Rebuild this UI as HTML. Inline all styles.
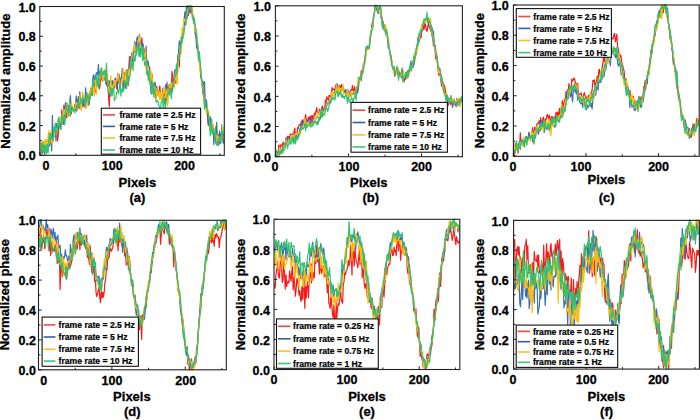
<!DOCTYPE html>
<html><head><meta charset="utf-8"><style>
html,body{margin:0;padding:0;background:#fff;}
body{width:700px;height:420px;overflow:hidden;}
svg{display:block;}
text{font-family:"Liberation Sans",sans-serif;font-weight:bold;fill:#000;stroke:#000;stroke-width:0.3px;}
.tk{font-size:12.5px;}
.tt{font-size:13px;}
.lg{font-size:8.6px;stroke-width:0.22px;}
</style></head><body>
<svg width="700" height="420" viewBox="0 0 700 420">
<rect width="700" height="420" fill="#fff"/>
<clipPath id="ca"><rect x="39.80" y="5.50" width="184.50" height="150.30"/></clipPath>
<g clip-path="url(#ca)" fill="none" stroke-width="1.2" stroke-linejoin="round">
<polyline stroke="#fa1a1a" points="40.2,147.5 40.9,144.5 41.6,146.1 42.3,153.1 43.0,141.8 43.8,143.2 44.5,147.2 45.2,141.2 45.9,141.8 46.6,141.8 47.4,142.8 48.1,139.9 48.8,145.2 49.5,141.1 50.3,140.9 51.0,134.2 51.7,135.6 52.4,136.0 53.1,137.3 53.9,133.8 54.6,131.6 55.3,132.0 56.0,123.7 56.7,124.2 57.5,140.9 58.2,135.8 58.9,126.3 59.6,126.1 60.3,121.7 61.1,120.3 61.8,109.9 62.5,123.8 63.2,118.7 63.9,105.0 64.7,109.3 65.4,107.4 66.1,112.4 66.8,117.8 67.5,109.1 68.3,109.4 69.0,115.8 69.7,113.1 70.4,110.0 71.2,113.9 71.9,109.7 72.6,108.6 73.3,108.7 74.0,111.1 74.8,105.7 75.5,103.9 76.2,106.2 76.9,111.0 77.6,103.0 78.4,107.9 79.1,100.1 79.8,108.4 80.5,98.2 81.2,102.0 82.0,107.2 82.7,102.3 83.4,100.2 84.1,98.8 84.8,104.4 85.6,104.6 86.3,98.1 87.0,100.9 87.7,97.2 88.4,94.1 89.2,104.5 89.9,94.0 90.6,88.2 91.3,94.3 92.1,95.3 92.8,86.1 93.5,86.8 94.2,82.6 94.9,87.8 95.7,92.1 96.4,84.6 97.1,85.3 97.8,78.7 98.5,80.8 99.3,88.9 100.0,86.1 100.7,75.3 101.4,75.3 102.1,81.0 102.9,78.3 103.6,77.5 104.3,79.0 105.0,78.5 105.7,82.3 106.5,84.8 107.2,86.3 107.9,80.8 108.6,97.2 109.3,106.6 110.1,85.9 110.8,92.7 111.5,84.1 112.2,88.6 113.0,81.1 113.7,85.6 114.4,81.6 115.1,78.7 115.8,82.3 116.6,87.7 117.3,89.9 118.0,73.5 118.7,81.7 119.4,84.2 120.2,80.3 120.9,82.0 121.6,77.3 122.3,81.4 123.0,81.6 123.8,84.9 124.5,78.7 125.2,84.9 125.9,75.6 126.6,70.1 127.4,83.1 128.1,85.6 128.8,68.5 129.5,56.6 130.2,70.7 131.0,68.5 131.7,56.1 132.4,59.6 133.1,55.3 133.9,52.4 134.6,46.3 135.3,49.0 136.0,44.0 136.7,44.1 137.5,45.5 138.2,41.7 138.9,44.6 139.6,40.7 140.3,47.3 141.1,48.5 141.8,37.8 142.5,46.7 143.2,48.7 143.9,48.2 144.7,54.9 145.4,56.7 146.1,56.4 146.8,60.1 147.5,70.1 148.3,63.6 149.0,73.8 149.7,79.3 150.4,81.6 151.1,81.5 151.9,73.9 152.6,89.0 153.3,84.4 154.0,97.0 154.8,88.5 155.5,85.8 156.2,92.4 156.9,95.3 157.6,92.2 158.4,90.8 159.1,91.7 159.8,85.9 160.5,94.3 161.2,98.1 162.0,95.7 162.7,95.2 163.4,94.1 164.1,94.5 164.8,93.3 165.6,101.8 166.3,89.6 167.0,95.9 167.7,98.2 168.4,88.9 169.2,84.6 169.9,87.3 170.6,87.4 171.3,91.0 172.0,71.4 172.8,79.4 173.5,87.5 174.2,84.0 174.9,77.8 175.7,83.1 176.4,71.3 177.1,69.7 177.8,56.9 178.5,53.8 179.3,67.0 180.0,49.6 180.7,53.2 181.4,36.1 182.1,36.6 182.9,31.0 183.6,34.9 184.3,17.6 185.0,13.3 185.7,24.5 186.5,14.0 187.2,15.8 187.9,10.4 188.6,15.3 189.3,5.0 190.1,12.8 190.8,9.4 191.5,6.2 192.2,14.2 192.9,15.8 193.7,20.9 194.4,23.2 195.1,33.3 195.8,35.3 196.6,39.7 197.3,45.8 198.0,49.8 198.7,57.4 199.4,58.3 200.2,69.0 200.9,73.5 201.6,81.2 202.3,85.7 203.0,94.1 203.8,90.4 204.5,103.0 205.2,105.4 205.9,103.9 206.6,107.0 207.4,114.0 208.1,124.8 208.8,116.4 209.5,120.1 210.2,130.5 211.0,121.8 211.7,130.3 212.4,133.7 213.1,129.4 213.8,132.2 214.6,131.8 215.3,141.5 216.0,126.3 216.7,138.7 217.5,143.9 218.2,134.3 218.9,139.5 219.6,136.5 220.3,139.5 221.1,137.6 221.8,135.5 222.5,139.6 223.2,131.9 223.9,136.4"/>
<polyline stroke="#3c6fb5" points="40.2,154.5 40.9,147.9 41.6,144.9 42.3,148.3 43.0,151.5 43.8,141.5 44.5,155.5 45.2,150.4 45.9,143.3 46.6,151.7 47.4,142.8 48.1,142.9 48.8,136.2 49.5,146.0 50.3,142.5 51.0,135.0 51.7,151.0 52.4,115.4 53.1,137.9 53.9,137.1 54.6,126.3 55.3,131.0 56.0,140.9 56.7,125.1 57.5,122.7 58.2,129.6 58.9,127.2 59.6,121.1 60.3,128.2 61.1,118.3 61.8,118.2 62.5,121.9 63.2,124.6 63.9,115.0 64.7,116.4 65.4,102.7 66.1,107.2 66.8,103.0 67.5,106.8 68.3,105.8 69.0,112.1 69.7,102.8 70.4,95.6 71.2,108.4 71.9,109.9 72.6,107.0 73.3,108.9 74.0,110.1 74.8,104.7 75.5,107.0 76.2,95.8 76.9,104.2 77.6,101.5 78.4,96.7 79.1,103.2 79.8,91.5 80.5,103.5 81.2,103.9 82.0,100.6 82.7,98.5 83.4,106.1 84.1,97.3 84.8,107.1 85.6,87.8 86.3,96.6 87.0,99.7 87.7,100.9 88.4,97.1 89.2,95.1 89.9,98.7 90.6,96.2 91.3,89.9 92.1,89.9 92.8,78.4 93.5,74.9 94.2,80.0 94.9,75.8 95.7,85.9 96.4,72.6 97.1,75.9 97.8,71.9 98.5,64.4 99.3,87.8 100.0,71.4 100.7,79.1 101.4,67.9 102.1,74.8 102.9,74.8 103.6,72.0 104.3,71.3 105.0,76.3 105.7,83.4 106.5,83.6 107.2,76.2 107.9,83.4 108.6,95.2 109.3,80.6 110.1,83.5 110.8,80.5 111.5,87.8 112.2,80.4 113.0,91.8 113.7,81.5 114.4,87.8 115.1,80.3 115.8,77.9 116.6,88.0 117.3,83.0 118.0,81.6 118.7,73.8 119.4,76.5 120.2,88.5 120.9,78.3 121.6,76.7 122.3,68.4 123.0,92.0 123.8,84.8 124.5,72.7 125.2,88.4 125.9,86.2 126.6,74.1 127.4,69.6 128.1,78.0 128.8,68.1 129.5,68.0 130.2,56.5 131.0,62.6 131.7,52.8 132.4,61.2 133.1,54.0 133.9,51.3 134.6,41.8 135.3,43.5 136.0,49.9 136.7,39.1 137.5,36.7 138.2,40.9 138.9,41.6 139.6,34.5 140.3,52.4 141.1,42.2 141.8,43.3 142.5,51.8 143.2,43.8 143.9,59.1 144.7,56.3 145.4,58.5 146.1,46.1 146.8,71.4 147.5,61.0 148.3,61.8 149.0,68.6 149.7,67.0 150.4,83.5 151.1,93.7 151.9,76.9 152.6,90.9 153.3,87.2 154.0,94.1 154.8,82.0 155.5,84.7 156.2,95.8 156.9,86.7 157.6,92.5 158.4,95.0 159.1,94.5 159.8,96.5 160.5,91.5 161.2,93.3 162.0,97.2 162.7,88.6 163.4,98.4 164.1,92.6 164.8,91.5 165.6,84.7 166.3,96.7 167.0,82.3 167.7,91.5 168.4,93.2 169.2,95.1 169.9,86.0 170.6,87.8 171.3,93.4 172.0,92.1 172.8,87.0 173.5,86.2 174.2,73.5 174.9,69.7 175.7,70.3 176.4,69.9 177.1,70.2 177.8,62.5 178.5,52.9 179.3,40.9 180.0,44.1 180.7,47.2 181.4,41.2 182.1,40.4 182.9,38.4 183.6,31.0 184.3,25.1 185.0,11.6 185.7,19.1 186.5,7.4 187.2,5.0 187.9,9.8 188.6,5.0 189.3,5.0 190.1,10.8 190.8,6.4 191.5,8.5 192.2,12.6 192.9,15.9 193.7,17.3 194.4,19.9 195.1,33.2 195.8,33.3 196.6,48.2 197.3,42.6 198.0,46.2 198.7,55.0 199.4,60.2 200.2,63.8 200.9,77.0 201.6,79.6 202.3,80.0 203.0,81.9 203.8,90.4 204.5,81.7 205.2,102.4 205.9,99.4 206.6,101.1 207.4,112.9 208.1,120.3 208.8,125.7 209.5,120.4 210.2,116.9 211.0,123.8 211.7,125.9 212.4,130.7 213.1,126.4 213.8,144.6 214.6,131.3 215.3,133.7 216.0,143.4 216.7,122.4 217.5,145.1 218.2,143.9 218.9,145.2 219.6,131.2 220.3,143.4 221.1,133.2 221.8,133.1 222.5,134.4 223.2,143.3 223.9,137.9"/>
<polyline stroke="#fdbc0c" points="40.2,141.1 40.9,154.5 41.6,151.6 42.3,147.7 43.0,142.3 43.8,144.2 44.5,141.1 45.2,149.1 45.9,139.0 46.6,140.5 47.4,150.5 48.1,135.2 48.8,130.8 49.5,144.0 50.3,138.4 51.0,130.4 51.7,142.8 52.4,144.1 53.1,139.7 53.9,135.3 54.6,134.4 55.3,127.8 56.0,128.6 56.7,134.9 57.5,125.3 58.2,117.8 58.9,119.7 59.6,119.4 60.3,122.6 61.1,116.7 61.8,124.6 62.5,114.9 63.2,117.3 63.9,109.4 64.7,110.2 65.4,115.7 66.1,109.3 66.8,104.1 67.5,115.3 68.3,112.6 69.0,113.6 69.7,117.0 70.4,105.1 71.2,103.2 71.9,105.4 72.6,107.9 73.3,109.1 74.0,107.6 74.8,112.0 75.5,103.9 76.2,102.7 76.9,102.7 77.6,109.0 78.4,105.2 79.1,105.1 79.8,94.8 80.5,101.7 81.2,110.8 82.0,99.4 82.7,91.8 83.4,97.2 84.1,95.9 84.8,99.6 85.6,108.8 86.3,107.7 87.0,104.6 87.7,98.9 88.4,96.2 89.2,93.4 89.9,96.8 90.6,88.9 91.3,93.1 92.1,93.0 92.8,83.2 93.5,89.3 94.2,96.1 94.9,86.8 95.7,80.1 96.4,94.2 97.1,80.4 97.8,79.5 98.5,84.0 99.3,83.7 100.0,78.2 100.7,77.7 101.4,68.1 102.1,71.7 102.9,81.4 103.6,79.3 104.3,73.4 105.0,69.2 105.7,77.9 106.5,79.7 107.2,73.7 107.9,84.1 108.6,86.7 109.3,92.7 110.1,88.5 110.8,75.6 111.5,92.5 112.2,85.4 113.0,92.0 113.7,84.4 114.4,80.5 115.1,85.6 115.8,80.6 116.6,80.0 117.3,80.5 118.0,73.7 118.7,77.5 119.4,82.4 120.2,84.2 120.9,85.1 121.6,79.1 122.3,83.1 123.0,68.6 123.8,72.8 124.5,82.0 125.2,81.5 125.9,70.7 126.6,86.3 127.4,78.0 128.1,69.4 128.8,75.8 129.5,71.0 130.2,67.6 131.0,59.4 131.7,58.3 132.4,53.6 133.1,50.1 133.9,50.6 134.6,43.5 135.3,50.5 136.0,52.1 136.7,51.8 137.5,49.2 138.2,42.8 138.9,35.1 139.6,39.9 140.3,44.8 141.1,48.4 141.8,47.3 142.5,48.4 143.2,51.1 143.9,57.4 144.7,55.2 145.4,50.7 146.1,68.8 146.8,62.6 147.5,74.6 148.3,66.7 149.0,74.5 149.7,84.2 150.4,76.8 151.1,71.0 151.9,81.1 152.6,77.9 153.3,85.5 154.0,97.1 154.8,86.2 155.5,92.0 156.2,98.3 156.9,88.6 157.6,91.9 158.4,96.7 159.1,90.7 159.8,99.4 160.5,92.3 161.2,99.7 162.0,92.5 162.7,100.1 163.4,87.5 164.1,93.2 164.8,87.3 165.6,97.8 166.3,95.8 167.0,89.1 167.7,105.7 168.4,97.0 169.2,86.0 169.9,87.4 170.6,83.5 171.3,88.1 172.0,82.4 172.8,87.1 173.5,88.6 174.2,88.3 174.9,80.8 175.7,78.3 176.4,75.1 177.1,84.5 177.8,72.3 178.5,60.9 179.3,52.7 180.0,52.5 180.7,49.7 181.4,52.4 182.1,27.8 182.9,38.8 183.6,21.8 184.3,18.9 185.0,21.6 185.7,22.1 186.5,15.1 187.2,18.0 187.9,9.0 188.6,9.3 189.3,6.1 190.1,5.0 190.8,5.0 191.5,10.5 192.2,6.2 192.9,18.4 193.7,22.5 194.4,25.5 195.1,32.4 195.8,28.5 196.6,34.3 197.3,38.2 198.0,50.2 198.7,54.7 199.4,64.7 200.2,73.0 200.9,70.7 201.6,76.8 202.3,88.4 203.0,85.3 203.8,101.2 204.5,98.4 205.2,104.8 205.9,108.1 206.6,114.1 207.4,107.5 208.1,112.5 208.8,112.7 209.5,120.7 210.2,129.9 211.0,127.3 211.7,132.6 212.4,126.2 213.1,124.1 213.8,129.8 214.6,135.6 215.3,135.7 216.0,134.0 216.7,142.8 217.5,135.9 218.2,136.3 218.9,140.4 219.6,140.1 220.3,137.1 221.1,141.4 221.8,140.7 222.5,132.4 223.2,134.2 223.9,126.3"/>
<polyline stroke="#32c26e" points="40.2,153.9 40.9,156.8 41.6,143.3 42.3,142.4 43.0,149.8 43.8,152.5 44.5,145.0 45.2,152.4 45.9,145.3 46.6,153.8 47.4,144.2 48.1,152.8 48.8,143.0 49.5,133.3 50.3,140.1 51.0,133.5 51.7,139.0 52.4,139.0 53.1,140.9 53.9,127.8 54.6,132.1 55.3,123.2 56.0,135.7 56.7,130.3 57.5,127.8 58.2,120.3 58.9,117.0 59.6,127.4 60.3,128.3 61.1,129.8 61.8,113.8 62.5,119.1 63.2,120.2 63.9,115.3 64.7,124.8 65.4,119.0 66.1,105.7 66.8,108.3 67.5,109.4 68.3,114.9 69.0,107.4 69.7,101.6 70.4,115.7 71.2,109.6 71.9,111.5 72.6,107.6 73.3,109.1 74.0,109.7 74.8,112.9 75.5,108.5 76.2,110.9 76.9,108.1 77.6,107.0 78.4,102.7 79.1,107.3 79.8,105.1 80.5,97.7 81.2,103.2 82.0,102.8 82.7,97.0 83.4,99.4 84.1,99.9 84.8,98.9 85.6,105.5 86.3,97.1 87.0,92.6 87.7,95.8 88.4,105.4 89.2,95.6 89.9,99.7 90.6,94.8 91.3,91.3 92.1,95.5 92.8,81.1 93.5,85.5 94.2,79.5 94.9,78.9 95.7,74.4 96.4,74.1 97.1,85.9 97.8,77.9 98.5,87.6 99.3,78.9 100.0,72.7 100.7,70.9 101.4,68.1 102.1,75.4 102.9,72.5 103.6,74.9 104.3,70.9 105.0,70.8 105.7,81.6 106.5,63.4 107.2,82.7 107.9,85.9 108.6,84.2 109.3,86.0 110.1,89.0 110.8,96.4 111.5,88.0 112.2,95.7 113.0,88.3 113.7,88.5 114.4,100.8 115.1,98.9 115.8,98.5 116.6,91.8 117.3,91.7 118.0,89.7 118.7,94.0 119.4,87.7 120.2,82.9 120.9,96.0 121.6,90.6 122.3,88.5 123.0,90.2 123.8,90.3 124.5,80.2 125.2,81.4 125.9,82.2 126.6,88.5 127.4,72.7 128.1,79.7 128.8,81.7 129.5,77.8 130.2,75.8 131.0,60.0 131.7,65.5 132.4,62.8 133.1,70.7 133.9,54.7 134.6,61.4 135.3,59.9 136.0,49.9 136.7,54.9 137.5,45.0 138.2,42.4 138.9,56.1 139.6,48.9 140.3,56.9 141.1,51.0 141.8,47.7 142.5,60.1 143.2,46.9 143.9,59.0 144.7,65.4 145.4,62.9 146.1,61.3 146.8,74.5 147.5,70.9 148.3,80.4 149.0,71.4 149.7,79.6 150.4,85.4 151.1,81.0 151.9,94.3 152.6,92.0 153.3,83.2 154.0,94.5 154.8,89.3 155.5,96.5 156.2,102.2 156.9,101.0 157.6,100.5 158.4,103.7 159.1,106.3 159.8,106.5 160.5,109.9 161.2,102.3 162.0,100.7 162.7,98.8 163.4,110.8 164.1,98.1 164.8,101.8 165.6,107.7 166.3,99.5 167.0,95.1 167.7,95.4 168.4,93.1 169.2,90.4 169.9,88.7 170.6,91.1 171.3,98.7 172.0,90.3 172.8,83.4 173.5,85.6 174.2,78.2 174.9,75.4 175.7,76.4 176.4,63.9 177.1,72.8 177.8,58.9 178.5,61.0 179.3,58.0 180.0,47.1 180.7,48.5 181.4,37.4 182.1,43.1 182.9,33.5 183.6,34.0 184.3,27.5 185.0,24.8 185.7,24.9 186.5,12.7 187.2,18.6 187.9,15.0 188.6,5.1 189.3,5.0 190.1,5.1 190.8,6.5 191.5,5.0 192.2,17.0 192.9,18.2 193.7,23.0 194.4,18.4 195.1,26.4 195.8,28.0 196.6,34.2 197.3,45.4 198.0,54.1 198.7,60.9 199.4,51.5 200.2,63.0 200.9,70.1 201.6,79.8 202.3,84.2 203.0,89.8 203.8,94.5 204.5,109.1 205.2,102.2 205.9,107.5 206.6,107.6 207.4,111.1 208.1,111.2 208.8,118.5 209.5,117.6 210.2,136.0 211.0,130.8 211.7,118.8 212.4,134.2 213.1,131.2 213.8,128.1 214.6,137.0 215.3,130.5 216.0,141.8 216.7,145.0 217.5,142.9 218.2,145.2 218.9,137.9 219.6,139.6 220.3,136.4 221.1,142.4 221.8,124.7 222.5,136.5 223.2,135.4 223.9,132.0"/>
</g>
<rect x="39.80" y="6.50" width="184.50" height="148.80" fill="none" stroke="#222" stroke-width="1.1"/>
<path d="M39.80,155.30v-3.2 M75.84,155.30v-2.0 M111.87,155.30v-3.2 M147.91,155.30v-2.0 M183.94,155.30v-3.2 M219.98,155.30v-2.0 M39.80,155.30h3.2 M39.80,140.42h2.0 M39.80,125.54h3.2 M39.80,110.66h2.0 M39.80,95.78h3.2 M39.80,80.90h2.0 M39.80,66.02h3.2 M39.80,51.14h2.0 M39.80,36.26h3.2 M39.80,21.38h2.0 M39.80,6.50h3.2" stroke="#222" stroke-width="1"/>
<text x="45.90" y="170.05" class="tk" text-anchor="middle">0</text>
<text x="112.30" y="170.05" class="tk" text-anchor="middle">100</text>
<text x="184.60" y="170.05" class="tk" text-anchor="middle">200</text>
<text x="35.80" y="160.47" class="tk" text-anchor="end">0.0</text>
<text x="35.80" y="130.72" class="tk" text-anchor="end">0.2</text>
<text x="35.80" y="100.95" class="tk" text-anchor="end">0.4</text>
<text x="35.80" y="71.20" class="tk" text-anchor="end">0.6</text>
<text x="35.80" y="41.43" class="tk" text-anchor="end">0.8</text>
<text x="35.80" y="11.68" class="tk" text-anchor="end">1.0</text>
<text class="tt" text-anchor="middle" transform="translate(9.50,81.10) rotate(-90)">Normalized amplitude</text>
<text class="tt" text-anchor="middle" x="137.40" y="187.40">Pixels</text>
<text class="tt" text-anchor="middle" x="137.40" y="201.80">(a)</text>
<rect x="101.30" y="108.20" width="99.30" height="46.00" fill="#fff" stroke="#111" stroke-width="1.1"/>
<path d="M102.90,114.90H115.00" stroke="#f04848" stroke-width="1.6"/>
<text class="lg" x="119.40" y="118.00">frame rate = 2.5 Hz</text>
<path d="M102.90,126.40H115.00" stroke="#2f5fa5" stroke-width="1.6"/>
<text class="lg" x="119.40" y="129.50">frame rate = 5 Hz</text>
<path d="M102.90,138.00H115.00" stroke="#f8c030" stroke-width="1.6"/>
<text class="lg" x="119.40" y="141.10">frame rate = 7.5 Hz</text>
<path d="M102.90,150.00H115.00" stroke="#42c27c" stroke-width="1.6"/>
<text class="lg" x="119.40" y="153.10">frame rate = 10 Hz</text>
<clipPath id="cb"><rect x="275.40" y="4.80" width="187.00" height="152.40"/></clipPath>
<g clip-path="url(#cb)" fill="none" stroke-width="1.2" stroke-linejoin="round">
<polyline stroke="#fa1a1a" points="275.8,150.9 276.5,152.6 277.2,152.0 278.0,156.8 278.7,145.2 279.4,145.8 280.1,148.4 280.9,144.6 281.6,145.2 282.3,146.6 283.1,142.0 283.8,144.5 284.5,143.5 285.3,143.2 286.0,138.4 286.7,138.6 287.5,136.2 288.2,138.7 288.9,136.4 289.6,138.7 290.4,133.9 291.1,135.2 291.8,134.5 292.6,133.9 293.3,137.1 294.0,132.0 294.8,128.1 295.5,136.8 296.2,136.2 296.9,134.7 297.7,127.6 298.4,128.3 299.1,124.7 299.9,124.4 300.6,124.6 301.3,123.2 302.1,123.2 302.8,119.6 303.5,123.9 304.3,121.3 305.0,118.9 305.7,114.5 306.4,120.9 307.2,121.8 307.9,120.7 308.6,117.0 309.4,120.2 310.1,116.1 310.8,124.0 311.6,115.9 312.3,115.6 313.0,121.4 313.7,116.7 314.5,113.1 315.2,115.1 315.9,112.0 316.7,107.7 317.4,112.3 318.1,113.0 318.9,113.5 319.6,109.2 320.3,110.6 321.1,109.9 321.8,108.9 322.5,106.1 323.2,109.4 324.0,109.5 324.7,110.5 325.4,100.0 326.2,101.6 326.9,96.6 327.6,99.2 328.4,99.8 329.1,95.3 329.8,95.5 330.6,97.4 331.3,95.4 332.0,87.5 332.7,90.1 333.5,88.9 334.2,89.7 334.9,89.9 335.7,85.0 336.4,86.7 337.1,88.2 337.9,87.1 338.6,89.8 339.3,87.6 340.0,85.4 340.8,90.5 341.5,84.7 342.2,90.2 343.0,88.8 343.7,92.3 344.4,91.3 345.2,90.8 345.9,92.2 346.6,93.1 347.4,93.4 348.1,94.3 348.8,96.6 349.5,93.2 350.3,91.3 351.0,89.8 351.7,90.3 352.5,85.4 353.2,90.7 353.9,92.7 354.7,86.7 355.4,94.2 356.1,88.6 356.8,91.7 357.6,85.9 358.3,88.2 359.0,77.3 359.8,78.4 360.5,79.4 361.2,71.0 362.0,70.7 362.7,69.4 363.4,68.1 364.2,62.7 364.9,59.1 365.6,51.6 366.3,46.8 367.1,48.9 367.8,48.1 368.5,47.4 369.3,47.1 370.0,40.9 370.7,35.4 371.5,29.0 372.2,22.9 372.9,23.8 373.6,15.7 374.4,14.3 375.1,4.3 375.8,6.6 376.6,5.2 377.3,10.8 378.0,12.0 378.8,8.9 379.5,9.4 380.2,7.6 381.0,17.8 381.7,18.5 382.4,25.8 383.1,21.4 383.9,28.0 384.6,25.2 385.3,32.2 386.1,28.8 386.8,35.0 387.5,37.7 388.3,41.0 389.0,47.5 389.7,50.7 390.4,53.3 391.2,57.0 391.9,62.2 392.6,68.6 393.4,69.6 394.1,70.0 394.8,76.3 395.6,69.4 396.3,72.1 397.0,72.2 397.8,69.3 398.5,70.4 399.2,72.2 399.9,76.3 400.7,73.7 401.4,74.2 402.1,78.0 402.9,73.6 403.6,75.2 404.3,81.5 405.1,75.9 405.8,79.1 406.5,72.5 407.2,72.5 408.0,76.2 408.7,74.3 409.4,70.4 410.2,69.9 410.9,64.0 411.6,64.4 412.4,65.2 413.1,60.9 413.8,65.2 414.6,56.6 415.3,52.5 416.0,52.3 416.7,50.6 417.5,44.2 418.2,37.7 418.9,39.4 419.7,40.0 420.4,31.0 421.1,37.5 421.9,29.5 422.6,30.7 423.3,25.6 424.1,29.3 424.8,23.0 425.5,25.1 426.2,30.2 427.0,31.3 427.7,27.2 428.4,23.3 429.2,26.7 429.9,27.9 430.6,30.9 431.4,31.3 432.1,35.3 432.8,38.8 433.5,45.9 434.3,44.3 435.0,47.9 435.7,58.9 436.5,53.7 437.2,61.6 437.9,68.2 438.7,75.2 439.4,71.8 440.1,74.9 440.9,80.4 441.6,86.1 442.3,81.5 443.0,88.8 443.8,91.2 444.5,85.1 445.2,89.1 446.0,94.0 446.7,98.9 447.4,97.3 448.2,105.6 448.9,99.9 449.6,102.3 450.3,103.8 451.1,104.7 451.8,99.5 452.5,100.8 453.3,100.9 454.0,99.5 454.7,104.1 455.5,105.2 456.2,106.6 456.9,102.8 457.7,99.8 458.4,101.9 459.1,99.6 459.8,103.8 460.6,101.0 461.3,100.9 462.0,101.9"/>
<polyline stroke="#3c6fb5" points="275.8,149.7 276.5,152.1 277.2,156.0 278.0,155.6 278.7,152.9 279.4,155.4 280.1,149.5 280.9,153.0 281.6,149.9 282.3,150.9 283.1,148.8 283.8,150.2 284.5,149.8 285.3,146.8 286.0,144.6 286.7,142.3 287.5,140.6 288.2,136.4 288.9,137.9 289.6,140.3 290.4,137.5 291.1,140.8 291.8,135.0 292.6,137.0 293.3,141.4 294.0,135.5 294.8,134.7 295.5,143.0 296.2,137.2 296.9,135.6 297.7,138.3 298.4,134.9 299.1,133.5 299.9,128.6 300.6,128.0 301.3,120.8 302.1,127.5 302.8,122.5 303.5,124.5 304.3,123.3 305.0,126.3 305.7,127.8 306.4,124.7 307.2,120.9 307.9,119.1 308.6,121.8 309.4,122.2 310.1,125.6 310.8,119.2 311.6,119.3 312.3,123.6 313.0,121.9 313.7,123.6 314.5,116.5 315.2,118.4 315.9,118.9 316.7,116.9 317.4,116.0 318.1,117.5 318.9,118.9 319.6,118.3 320.3,118.8 321.1,112.5 321.8,107.2 322.5,116.4 323.2,110.7 324.0,108.8 324.7,111.2 325.4,106.9 326.2,109.0 326.9,101.9 327.6,105.2 328.4,102.1 329.1,99.3 329.8,100.9 330.6,103.1 331.3,98.6 332.0,94.0 332.7,94.9 333.5,92.8 334.2,95.0 334.9,90.8 335.7,88.2 336.4,89.0 337.1,83.7 337.9,89.5 338.6,92.1 339.3,94.0 340.0,86.9 340.8,90.0 341.5,87.3 342.2,88.8 343.0,86.5 343.7,88.4 344.4,93.1 345.2,91.7 345.9,89.7 346.6,95.9 347.4,89.3 348.1,90.5 348.8,91.4 349.5,94.4 350.3,92.9 351.0,96.3 351.7,93.1 352.5,94.5 353.2,92.6 353.9,94.0 354.7,92.0 355.4,89.7 356.1,95.6 356.8,88.0 357.6,93.1 358.3,89.8 359.0,81.0 359.8,79.0 360.5,76.9 361.2,80.6 362.0,73.9 362.7,70.2 363.4,64.0 364.2,63.9 364.9,58.3 365.6,57.0 366.3,50.3 367.1,49.3 367.8,45.8 368.5,49.5 369.3,46.7 370.0,38.8 370.7,31.5 371.5,30.7 372.2,26.4 372.9,23.5 373.6,15.2 374.4,12.6 375.1,5.7 375.8,6.5 376.6,9.7 377.3,10.6 378.0,13.1 378.8,13.3 379.5,5.9 380.2,7.2 381.0,17.7 381.7,16.3 382.4,23.5 383.1,28.9 383.9,26.9 384.6,28.8 385.3,31.2 386.1,35.4 386.8,33.2 387.5,36.2 388.3,48.2 389.0,45.7 389.7,50.3 390.4,56.9 391.2,58.8 391.9,63.2 392.6,67.7 393.4,68.9 394.1,66.4 394.8,75.0 395.6,71.1 396.3,71.4 397.0,73.8 397.8,73.2 398.5,76.0 399.2,75.3 399.9,73.9 400.7,73.9 401.4,77.7 402.1,68.2 402.9,78.0 403.6,76.4 404.3,77.2 405.1,77.4 405.8,72.7 406.5,76.8 407.2,71.3 408.0,70.6 408.7,74.8 409.4,68.1 410.2,71.1 410.9,60.9 411.6,67.4 412.4,67.0 413.1,67.3 413.8,63.4 414.6,58.9 415.3,57.2 416.0,54.5 416.7,49.6 417.5,44.9 418.2,37.4 418.9,42.3 419.7,36.2 420.4,34.5 421.1,33.5 421.9,30.6 422.6,27.7 423.3,21.9 424.1,23.1 424.8,22.8 425.5,19.0 426.2,19.4 427.0,20.8 427.7,19.5 428.4,23.1 429.2,19.9 429.9,21.5 430.6,26.1 431.4,31.3 432.1,27.5 432.8,34.6 433.5,31.0 434.3,44.7 435.0,45.0 435.7,52.6 436.5,55.1 437.2,57.6 437.9,65.5 438.7,67.3 439.4,69.9 440.1,73.0 440.9,74.6 441.6,76.3 442.3,79.9 443.0,84.5 443.8,89.0 444.5,93.6 445.2,95.0 446.0,96.6 446.7,95.0 447.4,99.1 448.2,102.4 448.9,98.3 449.6,102.3 450.3,102.4 451.1,101.2 451.8,99.6 452.5,107.3 453.3,104.2 454.0,101.2 454.7,102.8 455.5,104.3 456.2,103.5 456.9,98.4 457.7,102.9 458.4,99.7 459.1,99.2 459.8,101.9 460.6,98.7 461.3,100.1 462.0,100.2"/>
<polyline stroke="#fdbc0c" points="275.8,157.3 276.5,152.0 277.2,155.0 278.0,155.0 278.7,155.7 279.4,147.1 280.1,148.7 280.9,150.0 281.6,150.7 282.3,152.2 283.1,146.9 283.8,146.1 284.5,149.4 285.3,141.3 286.0,140.8 286.7,144.0 287.5,142.2 288.2,141.5 288.9,139.6 289.6,140.1 290.4,143.6 291.1,135.2 291.8,137.9 292.6,135.1 293.3,134.7 294.0,138.0 294.8,135.9 295.5,134.2 296.2,133.3 296.9,134.8 297.7,134.9 298.4,132.1 299.1,133.1 299.9,131.3 300.6,134.0 301.3,127.4 302.1,129.1 302.8,126.9 303.5,124.9 304.3,123.2 305.0,118.5 305.7,122.3 306.4,126.4 307.2,122.6 307.9,124.7 308.6,122.3 309.4,125.3 310.1,125.2 310.8,124.5 311.6,124.3 312.3,126.9 313.0,123.5 313.7,121.1 314.5,117.2 315.2,120.2 315.9,119.6 316.7,116.4 317.4,115.8 318.1,112.4 318.9,114.2 319.6,115.1 320.3,110.9 321.1,109.7 321.8,114.1 322.5,111.7 323.2,115.3 324.0,110.8 324.7,110.9 325.4,108.0 326.2,107.4 326.9,105.4 327.6,103.9 328.4,101.1 329.1,100.5 329.8,101.2 330.6,101.8 331.3,94.1 332.0,92.3 332.7,95.9 333.5,92.0 334.2,96.1 334.9,95.2 335.7,90.8 336.4,85.3 337.1,91.3 337.9,91.1 338.6,85.3 339.3,94.7 340.0,88.2 340.8,88.6 341.5,90.4 342.2,89.5 343.0,84.0 343.7,94.5 344.4,93.0 345.2,93.0 345.9,94.3 346.6,96.1 347.4,89.0 348.1,93.0 348.8,98.4 349.5,95.7 350.3,92.6 351.0,92.4 351.7,96.9 352.5,93.2 353.2,92.1 353.9,91.7 354.7,91.7 355.4,97.4 356.1,87.5 356.8,89.8 357.6,83.4 358.3,76.9 359.0,81.1 359.8,82.2 360.5,75.8 361.2,76.9 362.0,74.9 362.7,73.2 363.4,62.9 364.2,64.7 364.9,63.2 365.6,55.6 366.3,52.8 367.1,47.8 367.8,48.7 368.5,49.7 369.3,43.0 370.0,42.0 370.7,34.2 371.5,28.5 372.2,28.1 372.9,24.3 373.6,17.5 374.4,11.7 375.1,10.2 375.8,6.9 376.6,7.3 377.3,8.4 378.0,9.0 378.8,11.9 379.5,10.4 380.2,9.1 381.0,16.2 381.7,20.6 382.4,22.8 383.1,26.5 383.9,29.5 384.6,30.6 385.3,24.7 386.1,28.2 386.8,36.2 387.5,39.1 388.3,36.8 389.0,43.3 389.7,51.5 390.4,52.7 391.2,62.9 391.9,62.4 392.6,63.7 393.4,72.8 394.1,71.9 394.8,69.3 395.6,68.8 396.3,73.4 397.0,71.2 397.8,68.0 398.5,73.4 399.2,76.5 399.9,74.1 400.7,75.7 401.4,72.0 402.1,75.6 402.9,78.6 403.6,70.6 404.3,77.9 405.1,75.2 405.8,74.3 406.5,73.6 407.2,74.3 408.0,72.0 408.7,72.3 409.4,74.4 410.2,70.0 410.9,68.5 411.6,66.8 412.4,64.2 413.1,64.0 413.8,56.7 414.6,53.4 415.3,60.3 416.0,51.3 416.7,49.7 417.5,51.1 418.2,40.1 418.9,39.5 419.7,35.8 420.4,33.7 421.1,26.8 421.9,24.2 422.6,24.7 423.3,22.0 424.1,22.9 424.8,21.1 425.5,22.5 426.2,20.1 427.0,22.0 427.7,19.5 428.4,18.8 429.2,20.7 429.9,19.7 430.6,18.2 431.4,33.6 432.1,31.4 432.8,36.3 433.5,40.0 434.3,46.5 435.0,47.0 435.7,52.2 436.5,57.4 437.2,60.4 437.9,65.0 438.7,73.0 439.4,67.6 440.1,74.1 440.9,78.6 441.6,78.2 442.3,83.7 443.0,90.8 443.8,85.8 444.5,95.0 445.2,93.7 446.0,94.9 446.7,93.3 447.4,95.1 448.2,98.8 448.9,101.8 449.6,101.3 450.3,97.7 451.1,96.1 451.8,99.5 452.5,102.7 453.3,98.7 454.0,102.6 454.7,102.9 455.5,102.8 456.2,100.6 456.9,101.3 457.7,99.2 458.4,98.2 459.1,99.9 459.8,106.7 460.6,104.2 461.3,98.5 462.0,98.8"/>
<polyline stroke="#32c26e" points="275.8,150.4 276.5,155.9 277.2,155.9 278.0,152.7 278.7,151.6 279.4,153.8 280.1,150.9 280.9,154.1 281.6,153.0 282.3,146.8 283.1,152.9 283.8,146.2 284.5,145.8 285.3,144.1 286.0,142.3 286.7,141.9 287.5,148.2 288.2,144.9 288.9,143.5 289.6,139.3 290.4,144.3 291.1,142.9 291.8,141.7 292.6,137.1 293.3,143.8 294.0,143.1 294.8,137.5 295.5,143.8 296.2,136.7 296.9,137.9 297.7,139.8 298.4,135.7 299.1,136.1 299.9,132.0 300.6,130.4 301.3,126.3 302.1,129.1 302.8,127.9 303.5,128.9 304.3,126.8 305.0,123.4 305.7,130.6 306.4,123.9 307.2,127.1 307.9,125.8 308.6,125.5 309.4,124.3 310.1,125.8 310.8,127.2 311.6,125.1 312.3,125.4 313.0,125.5 313.7,123.8 314.5,121.3 315.2,122.4 315.9,121.6 316.7,124.6 317.4,121.0 318.1,124.7 318.9,117.4 319.6,121.0 320.3,114.7 321.1,109.7 321.8,117.7 322.5,112.4 323.2,113.8 324.0,115.2 324.7,114.7 325.4,110.0 326.2,106.6 326.9,108.1 327.6,111.6 328.4,109.1 329.1,105.8 329.8,100.5 330.6,102.0 331.3,100.7 332.0,97.2 332.7,99.6 333.5,98.1 334.2,97.2 334.9,100.2 335.7,93.5 336.4,92.6 337.1,90.8 337.9,96.7 338.6,96.3 339.3,92.3 340.0,93.9 340.8,91.3 341.5,97.1 342.2,94.5 343.0,97.6 343.7,96.0 344.4,98.6 345.2,96.3 345.9,95.1 346.6,96.4 347.4,103.2 348.1,96.7 348.8,98.3 349.5,102.2 350.3,101.6 351.0,99.1 351.7,97.5 352.5,100.0 353.2,102.8 353.9,98.0 354.7,98.3 355.4,92.0 356.1,100.2 356.8,87.7 357.6,86.5 358.3,85.5 359.0,77.6 359.8,79.1 360.5,75.5 361.2,78.3 362.0,73.5 362.7,73.2 363.4,71.3 364.2,64.3 364.9,61.3 365.6,53.0 366.3,46.5 367.1,48.6 367.8,47.5 368.5,46.5 369.3,48.8 370.0,39.6 370.7,36.0 371.5,31.8 372.2,30.0 372.9,27.7 373.6,18.6 374.4,13.2 375.1,6.7 375.8,4.4 376.6,4.3 377.3,8.2 378.0,7.6 378.8,10.7 379.5,7.5 380.2,6.8 381.0,7.6 381.7,20.3 382.4,27.4 383.1,22.9 383.9,30.0 384.6,28.8 385.3,29.9 386.1,32.8 386.8,29.9 387.5,35.4 388.3,43.2 389.0,47.0 389.7,53.0 390.4,54.1 391.2,60.1 391.9,64.4 392.6,67.3 393.4,69.1 394.1,69.2 394.8,73.6 395.6,71.9 396.3,70.7 397.0,66.0 397.8,69.9 398.5,80.1 399.2,74.4 399.9,75.0 400.7,73.9 401.4,71.4 402.1,74.1 402.9,82.4 403.6,75.9 404.3,76.4 405.1,75.3 405.8,72.5 406.5,78.4 407.2,71.9 408.0,77.8 408.7,72.0 409.4,69.8 410.2,63.5 410.9,69.8 411.6,70.7 412.4,62.8 413.1,64.1 413.8,56.0 414.6,59.2 415.3,56.9 416.0,48.2 416.7,47.6 417.5,41.8 418.2,44.8 418.9,33.7 419.7,36.3 420.4,29.9 421.1,32.2 421.9,31.4 422.6,26.1 423.3,23.3 424.1,18.5 424.8,20.6 425.5,18.8 426.2,18.5 427.0,12.2 427.7,22.6 428.4,17.7 429.2,21.9 429.9,22.0 430.6,26.5 431.4,25.2 432.1,34.6 432.8,38.3 433.5,39.4 434.3,46.0 435.0,45.4 435.7,49.2 436.5,57.7 437.2,57.7 437.9,65.2 438.7,67.1 439.4,70.3 440.1,68.5 440.9,76.1 441.6,81.3 442.3,84.4 443.0,82.1 443.8,92.4 444.5,91.9 445.2,94.1 446.0,101.5 446.7,98.0 447.4,95.6 448.2,98.6 448.9,102.2 449.6,98.4 450.3,99.1 451.1,95.5 451.8,102.8 452.5,102.1 453.3,101.2 454.0,102.0 454.7,101.7 455.5,102.3 456.2,103.8 456.9,106.1 457.7,103.2 458.4,105.1 459.1,103.9 459.8,102.2 460.6,98.6 461.3,96.7 462.0,101.3"/>
</g>
<rect x="275.40" y="5.80" width="187.00" height="150.90" fill="none" stroke="#222" stroke-width="1.1"/>
<path d="M275.40,156.70v-3.2 M311.92,156.70v-2.0 M348.45,156.70v-3.2 M384.97,156.70v-2.0 M421.49,156.70v-3.2 M458.02,156.70v-2.0 M275.40,156.70h3.2 M275.40,141.61h2.0 M275.40,126.52h3.2 M275.40,111.43h2.0 M275.40,96.34h3.2 M275.40,81.25h2.0 M275.40,66.16h3.2 M275.40,51.07h2.0 M275.40,35.98h3.2 M275.40,20.89h2.0 M275.40,5.80h3.2" stroke="#222" stroke-width="1"/>
<text x="275.00" y="171.45" class="tk" text-anchor="middle">0</text>
<text x="349.00" y="171.45" class="tk" text-anchor="middle">100</text>
<text x="421.60" y="171.45" class="tk" text-anchor="middle">200</text>
<text x="271.00" y="161.87" class="tk" text-anchor="end">0.0</text>
<text x="271.00" y="131.69" class="tk" text-anchor="end">0.2</text>
<text x="271.00" y="101.52" class="tk" text-anchor="end">0.4</text>
<text x="271.00" y="71.34" class="tk" text-anchor="end">0.6</text>
<text x="271.00" y="41.16" class="tk" text-anchor="end">0.8</text>
<text x="271.00" y="10.98" class="tk" text-anchor="end">1.0</text>
<text class="tt" text-anchor="middle" transform="translate(245.00,80.95) rotate(-90)">Normalized amplitude</text>
<text class="tt" text-anchor="middle" x="368.80" y="187.30">Pixels</text>
<text class="tt" text-anchor="middle" x="370.80" y="202.10">(b)</text>
<rect x="351.00" y="102.40" width="96.40" height="49.80" fill="#fff" stroke="#111" stroke-width="1.1"/>
<path d="M352.50,110.20H365.30" stroke="#f04848" stroke-width="1.6"/>
<text class="lg" x="368.10" y="113.30">frame rate = 2.5 Hz</text>
<path d="M352.50,122.50H365.30" stroke="#2f5fa5" stroke-width="1.6"/>
<text class="lg" x="368.10" y="125.60">frame rate = 5 Hz</text>
<path d="M352.50,134.90H365.30" stroke="#f8c030" stroke-width="1.6"/>
<text class="lg" x="368.10" y="138.00">frame rate = 7.5 Hz</text>
<path d="M352.50,147.00H365.30" stroke="#42c27c" stroke-width="1.6"/>
<text class="lg" x="368.10" y="150.10">frame rate = 10 Hz</text>
<clipPath id="cc"><rect x="513.40" y="4.00" width="185.80" height="152.80"/></clipPath>
<g clip-path="url(#cc)" fill="none" stroke-width="1.2" stroke-linejoin="round">
<polyline stroke="#fa1a1a" points="513.8,144.1 514.5,157.8 515.2,147.5 515.9,150.1 516.7,149.2 517.4,147.8 518.1,153.1 518.8,146.3 519.6,147.6 520.3,132.9 521.0,142.6 521.7,144.0 522.5,143.4 523.2,144.4 523.9,145.4 524.6,142.8 525.4,139.5 526.1,141.4 526.8,136.9 527.6,140.2 528.3,138.8 529.0,133.2 529.7,136.0 530.5,138.7 531.2,136.6 531.9,133.2 532.6,127.5 533.4,133.7 534.1,132.5 534.8,127.2 535.5,132.3 536.3,129.1 537.0,123.8 537.7,123.4 538.4,123.7 539.2,120.5 539.9,131.0 540.6,117.6 541.3,123.8 542.1,125.8 542.8,118.9 543.5,117.2 544.2,120.7 545.0,122.6 545.7,118.8 546.4,119.1 547.1,114.3 547.9,116.4 548.6,118.3 549.3,115.2 550.1,119.6 550.8,121.9 551.5,116.8 552.2,116.5 553.0,118.9 553.7,120.4 554.4,116.6 555.1,124.8 555.9,112.9 556.6,112.3 557.3,118.4 558.0,112.0 558.8,114.8 559.5,108.4 560.2,116.8 560.9,111.5 561.7,104.3 562.4,100.8 563.1,110.2 563.8,103.4 564.6,99.4 565.3,101.0 566.0,91.7 566.7,97.8 567.5,89.6 568.2,92.6 568.9,83.5 569.6,87.5 570.4,87.7 571.1,91.1 571.8,78.8 572.6,80.9 573.3,80.1 574.0,77.9 574.7,79.7 575.5,82.5 576.2,83.8 576.9,87.0 577.6,83.4 578.4,95.2 579.1,94.3 579.8,94.7 580.5,93.6 581.3,93.0 582.0,99.5 582.7,101.5 583.4,96.2 584.2,92.7 584.9,94.9 585.6,97.0 586.3,98.8 587.1,96.8 587.8,98.6 588.5,95.0 589.2,99.9 590.0,96.1 590.7,95.8 591.4,92.1 592.1,90.6 592.9,80.3 593.6,81.7 594.3,79.9 595.1,90.0 595.8,82.6 596.5,81.7 597.2,76.2 598.0,83.8 598.7,70.7 599.4,69.4 600.1,75.6 600.9,72.9 601.6,70.7 602.3,66.3 603.0,62.7 603.8,56.2 604.5,61.7 605.2,56.2 605.9,55.8 606.7,48.1 607.4,49.4 608.1,45.4 608.8,51.7 609.6,47.0 610.3,47.3 611.0,37.5 611.7,38.0 612.5,39.1 613.2,38.1 613.9,34.5 614.6,33.4 615.4,41.8 616.1,38.7 616.8,34.2 617.5,45.6 618.3,49.3 619.0,54.0 619.7,57.7 620.5,54.9 621.2,57.3 621.9,63.4 622.6,65.2 623.4,68.7 624.1,71.2 624.8,79.5 625.5,78.6 626.3,79.6 627.0,85.5 627.7,87.3 628.4,91.0 629.2,92.0 629.9,90.4 630.6,96.8 631.3,98.0 632.1,96.7 632.8,98.9 633.5,96.6 634.2,109.9 635.0,100.8 635.7,105.8 636.4,104.1 637.1,101.7 637.9,100.3 638.6,99.8 639.3,102.0 640.0,96.5 640.8,102.0 641.5,100.6 642.2,96.2 643.0,98.7 643.7,86.9 644.4,87.6 645.1,80.7 645.9,84.7 646.6,82.4 647.3,76.9 648.0,71.1 648.8,71.2 649.5,63.4 650.2,60.1 650.9,50.2 651.7,53.4 652.4,43.3 653.1,44.7 653.8,41.7 654.6,36.9 655.3,34.7 656.0,26.7 656.7,20.8 657.5,20.9 658.2,16.9 658.9,11.3 659.6,13.7 660.4,11.8 661.1,11.5 661.8,14.5 662.5,5.4 663.3,12.6 664.0,4.0 664.7,6.4 665.5,4.4 666.2,10.9 666.9,16.3 667.6,15.9 668.4,23.4 669.1,27.1 669.8,31.3 670.5,36.7 671.3,42.0 672.0,49.4 672.7,52.6 673.4,64.2 674.2,62.6 674.9,71.1 675.6,68.3 676.3,72.8 677.1,88.7 677.8,87.0 678.5,93.3 679.2,101.5 680.0,100.9 680.7,108.5 681.4,116.8 682.1,115.6 682.9,118.5 683.6,120.4 684.3,127.4 685.0,123.5 685.8,125.1 686.5,133.1 687.2,132.9 688.0,132.5 688.7,135.4 689.4,128.6 690.1,134.0 690.9,137.7 691.6,136.1 692.3,132.7 693.0,123.9 693.8,131.2 694.5,129.2 695.2,126.9 695.9,127.6 696.7,118.7 697.4,126.8 698.1,121.1 698.8,121.6"/>
<polyline stroke="#3c6fb5" points="513.8,148.8 514.5,153.6 515.2,143.0 515.9,148.7 516.7,147.6 517.4,150.2 518.1,148.8 518.8,143.7 519.6,141.5 520.3,141.5 521.0,139.3 521.7,140.5 522.5,142.4 523.2,139.4 523.9,139.9 524.6,141.9 525.4,138.7 526.1,136.3 526.8,139.3 527.6,140.7 528.3,136.5 529.0,132.0 529.7,138.5 530.5,137.6 531.2,137.2 531.9,132.1 532.6,141.6 533.4,133.6 534.1,130.2 534.8,136.1 535.5,127.7 536.3,130.1 537.0,132.8 537.7,129.4 538.4,134.2 539.2,130.1 539.9,121.5 540.6,130.0 541.3,120.5 542.1,126.6 542.8,122.6 543.5,125.4 544.2,132.7 545.0,127.0 545.7,124.3 546.4,128.8 547.1,129.5 547.9,123.8 548.6,127.1 549.3,130.6 550.1,127.3 550.8,122.1 551.5,126.3 552.2,121.4 553.0,119.1 553.7,123.7 554.4,127.2 555.1,126.9 555.9,121.4 556.6,117.0 557.3,118.1 558.0,116.5 558.8,119.2 559.5,116.0 560.2,117.7 560.9,115.8 561.7,117.3 562.4,116.5 563.1,111.3 563.8,112.2 564.6,110.6 565.3,103.9 566.0,104.6 566.7,91.6 567.5,95.3 568.2,98.9 568.9,93.4 569.6,94.2 570.4,96.8 571.1,89.9 571.8,95.1 572.6,101.8 573.3,88.2 574.0,92.0 574.7,84.2 575.5,90.9 576.2,93.6 576.9,87.8 577.6,100.3 578.4,98.5 579.1,96.5 579.8,102.3 580.5,103.7 581.3,103.6 582.0,101.6 582.7,107.5 583.4,103.2 584.2,103.9 584.9,98.7 585.6,107.9 586.3,109.9 587.1,104.4 587.8,108.1 588.5,105.8 589.2,105.9 590.0,101.7 590.7,106.7 591.4,103.3 592.1,109.0 592.9,100.8 593.6,90.6 594.3,96.2 595.1,94.7 595.8,94.8 596.5,87.3 597.2,87.1 598.0,90.2 598.7,82.5 599.4,82.5 600.1,79.4 600.9,82.6 601.6,73.3 602.3,76.4 603.0,76.7 603.8,76.5 604.5,73.8 605.2,68.1 605.9,69.8 606.7,63.3 607.4,63.2 608.1,59.1 608.8,59.5 609.6,61.0 610.3,65.7 611.0,56.6 611.7,53.1 612.5,53.4 613.2,51.0 613.9,54.3 614.6,54.7 615.4,57.7 616.1,51.3 616.8,56.9 617.5,61.1 618.3,66.1 619.0,64.5 619.7,61.9 620.5,68.1 621.2,75.0 621.9,70.7 622.6,73.1 623.4,76.8 624.1,79.5 624.8,80.5 625.5,84.9 626.3,86.6 627.0,94.4 627.7,89.3 628.4,95.8 629.2,92.1 629.9,107.7 630.6,100.4 631.3,101.1 632.1,107.1 632.8,105.8 633.5,105.7 634.2,106.7 635.0,110.8 635.7,109.7 636.4,105.8 637.1,104.5 637.9,107.6 638.6,106.6 639.3,105.2 640.0,101.4 640.8,107.3 641.5,106.9 642.2,100.5 643.0,102.2 643.7,97.4 644.4,91.8 645.1,87.1 645.9,88.8 646.6,79.0 647.3,83.8 648.0,72.0 648.8,74.7 649.5,69.0 650.2,57.9 650.9,57.0 651.7,53.8 652.4,48.3 653.1,41.0 653.8,38.7 654.6,34.6 655.3,27.2 656.0,29.6 656.7,25.8 657.5,23.2 658.2,15.1 658.9,13.4 659.6,10.3 660.4,12.6 661.1,11.1 661.8,6.3 662.5,9.2 663.3,4.0 664.0,3.7 664.7,8.7 665.5,8.4 666.2,11.1 666.9,7.8 667.6,8.5 668.4,21.9 669.1,26.4 669.8,39.0 670.5,35.6 671.3,41.4 672.0,50.2 672.7,49.3 673.4,62.3 674.2,62.8 674.9,66.6 675.6,76.2 676.3,74.2 677.1,78.7 677.8,92.1 678.5,97.6 679.2,96.0 680.0,102.8 680.7,111.0 681.4,111.9 682.1,115.0 682.9,118.5 683.6,118.0 684.3,122.0 685.0,119.7 685.8,123.0 686.5,127.0 687.2,127.2 688.0,127.8 688.7,131.2 689.4,138.5 690.1,131.8 690.9,134.0 691.6,128.1 692.3,132.2 693.0,129.8 693.8,129.5 694.5,124.0 695.2,128.0 695.9,128.3 696.7,125.2 697.4,126.5 698.1,123.1 698.8,122.2"/>
<polyline stroke="#fdbc0c" points="513.8,150.0 514.5,143.3 515.2,150.2 515.9,148.1 516.7,148.4 517.4,144.9 518.1,150.3 518.8,147.9 519.6,144.9 520.3,142.2 521.0,143.5 521.7,144.5 522.5,145.4 523.2,140.5 523.9,137.1 524.6,140.4 525.4,140.5 526.1,139.1 526.8,143.2 527.6,140.5 528.3,139.8 529.0,137.4 529.7,137.9 530.5,141.3 531.2,133.0 531.9,130.5 532.6,136.4 533.4,133.5 534.1,133.3 534.8,130.8 535.5,137.6 536.3,126.5 537.0,132.6 537.7,125.8 538.4,128.8 539.2,129.5 539.9,128.0 540.6,124.1 541.3,129.5 542.1,127.6 542.8,127.5 543.5,131.3 544.2,120.9 545.0,123.1 545.7,125.1 546.4,121.1 547.1,128.2 547.9,125.2 548.6,119.2 549.3,121.7 550.1,132.4 550.8,136.0 551.5,128.2 552.2,121.0 553.0,125.8 553.7,124.5 554.4,121.4 555.1,125.5 555.9,120.6 556.6,117.3 557.3,117.4 558.0,117.0 558.8,119.7 559.5,115.3 560.2,117.4 560.9,110.1 561.7,103.9 562.4,113.0 563.1,116.0 563.8,108.8 564.6,104.8 565.3,101.0 566.0,98.9 566.7,101.9 567.5,98.7 568.2,90.1 568.9,96.9 569.6,88.8 570.4,92.2 571.1,87.8 571.8,86.9 572.6,85.6 573.3,84.5 574.0,89.6 574.7,84.4 575.5,84.9 576.2,84.7 576.9,84.8 577.6,93.4 578.4,97.3 579.1,99.3 579.8,99.2 580.5,96.4 581.3,102.1 582.0,96.0 582.7,99.3 583.4,101.5 584.2,105.7 584.9,101.1 585.6,100.0 586.3,108.2 587.1,98.3 587.8,96.8 588.5,101.1 589.2,100.2 590.0,93.0 590.7,95.9 591.4,101.4 592.1,96.0 592.9,93.8 593.6,91.7 594.3,97.3 595.1,85.3 595.8,88.3 596.5,84.1 597.2,83.6 598.0,78.8 598.7,81.2 599.4,81.4 600.1,75.6 600.9,71.3 601.6,75.6 602.3,68.6 603.0,70.9 603.8,72.0 604.5,63.4 605.2,69.2 605.9,61.0 606.7,64.0 607.4,59.1 608.1,63.2 608.8,60.4 609.6,52.7 610.3,54.2 611.0,53.0 611.7,52.6 612.5,47.9 613.2,53.0 613.9,51.9 614.6,49.4 615.4,52.8 616.1,53.6 616.8,53.1 617.5,55.4 618.3,57.9 619.0,54.0 619.7,58.8 620.5,61.1 621.2,68.4 621.9,72.8 622.6,78.5 623.4,77.2 624.1,85.2 624.8,82.5 625.5,80.4 626.3,80.2 627.0,85.1 627.7,93.8 628.4,91.7 629.2,98.3 629.9,95.1 630.6,100.2 631.3,98.7 632.1,94.7 632.8,101.7 633.5,97.9 634.2,105.7 635.0,107.8 635.7,102.6 636.4,101.4 637.1,108.7 637.9,105.8 638.6,109.9 639.3,104.9 640.0,100.4 640.8,102.7 641.5,103.1 642.2,104.4 643.0,96.2 643.7,91.9 644.4,89.2 645.1,87.1 645.9,88.9 646.6,75.3 647.3,77.7 648.0,74.0 648.8,66.8 649.5,71.9 650.2,60.3 650.9,56.1 651.7,49.9 652.4,42.3 653.1,41.0 653.8,44.6 654.6,35.7 655.3,30.0 656.0,26.7 656.7,28.5 657.5,27.0 658.2,17.2 658.9,15.6 659.6,14.6 660.4,18.2 661.1,4.7 661.8,18.8 662.5,9.1 663.3,3.5 664.0,6.7 664.7,5.6 665.5,12.0 666.2,6.2 666.9,17.8 667.6,16.3 668.4,21.1 669.1,30.0 669.8,28.5 670.5,41.0 671.3,43.7 672.0,46.7 672.7,53.3 673.4,55.5 674.2,59.0 674.9,68.1 675.6,73.9 676.3,78.8 677.1,83.4 677.8,84.8 678.5,93.6 679.2,96.7 680.0,103.0 680.7,109.7 681.4,108.1 682.1,118.1 682.9,118.0 683.6,115.8 684.3,126.9 685.0,125.7 685.8,132.8 686.5,131.0 687.2,135.7 688.0,133.4 688.7,135.3 689.4,134.0 690.1,129.4 690.9,133.3 691.6,131.3 692.3,132.7 693.0,132.3 693.8,133.4 694.5,135.6 695.2,128.3 695.9,122.0 696.7,124.7 697.4,126.8 698.1,118.1 698.8,123.6"/>
<polyline stroke="#32c26e" points="513.8,152.9 514.5,153.7 515.2,152.1 515.9,149.1 516.7,141.1 517.4,147.8 518.1,149.8 518.8,147.6 519.6,145.5 520.3,149.7 521.0,142.9 521.7,140.5 522.5,141.4 523.2,140.2 523.9,146.2 524.6,147.2 525.4,136.8 526.1,137.0 526.8,145.2 527.6,138.8 528.3,138.8 529.0,136.6 529.7,137.1 530.5,139.0 531.2,136.1 531.9,135.6 532.6,135.7 533.4,141.0 534.1,144.1 534.8,136.0 535.5,138.1 536.3,131.0 537.0,128.6 537.7,129.2 538.4,130.3 539.2,128.0 539.9,123.7 540.6,129.5 541.3,123.6 542.1,123.9 542.8,125.1 543.5,120.7 544.2,127.7 545.0,121.9 545.7,128.1 546.4,127.5 547.1,128.5 547.9,123.5 548.6,128.1 549.3,124.8 550.1,128.8 550.8,121.4 551.5,118.6 552.2,123.8 553.0,118.7 553.7,122.0 554.4,116.2 555.1,122.2 555.9,126.5 556.6,115.0 557.3,119.4 558.0,121.7 558.8,119.9 559.5,122.4 560.2,116.6 560.9,118.0 561.7,107.6 562.4,108.3 563.1,114.3 563.8,112.4 564.6,107.9 565.3,110.9 566.0,102.8 566.7,99.4 567.5,98.7 568.2,96.1 568.9,91.6 569.6,87.7 570.4,86.5 571.1,90.2 571.8,86.4 572.6,90.7 573.3,85.9 574.0,89.5 574.7,83.0 575.5,89.0 576.2,88.9 576.9,88.9 577.6,90.7 578.4,99.7 579.1,98.7 579.8,97.7 580.5,98.1 581.3,102.2 582.0,99.5 582.7,101.2 583.4,96.0 584.2,99.5 584.9,106.3 585.6,109.6 586.3,102.0 587.1,98.4 587.8,101.7 588.5,99.3 589.2,103.5 590.0,105.6 590.7,97.5 591.4,98.1 592.1,93.7 592.9,97.9 593.6,90.6 594.3,91.5 595.1,85.1 595.8,88.1 596.5,86.7 597.2,85.1 598.0,77.5 598.7,80.1 599.4,81.3 600.1,80.8 600.9,79.4 601.6,69.7 602.3,79.2 603.0,74.6 603.8,68.1 604.5,64.5 605.2,66.9 605.9,61.7 606.7,59.8 607.4,57.3 608.1,58.9 608.8,52.1 609.6,55.5 610.3,49.6 611.0,56.7 611.7,47.9 612.5,53.5 613.2,53.2 613.9,46.5 614.6,51.6 615.4,48.4 616.1,54.7 616.8,47.4 617.5,54.8 618.3,60.8 619.0,58.8 619.7,59.1 620.5,67.6 621.2,66.4 621.9,64.2 622.6,70.6 623.4,75.9 624.1,80.0 624.8,78.4 625.5,87.8 626.3,95.6 627.0,90.4 627.7,94.3 628.4,87.3 629.2,95.0 629.9,101.0 630.6,103.5 631.3,99.7 632.1,105.9 632.8,106.5 633.5,105.8 634.2,105.7 635.0,106.2 635.7,106.4 636.4,102.6 637.1,100.9 637.9,111.4 638.6,96.4 639.3,103.6 640.0,99.0 640.8,104.6 641.5,99.9 642.2,98.8 643.0,96.8 643.7,91.4 644.4,88.9 645.1,91.0 645.9,84.8 646.6,78.5 647.3,74.9 648.0,74.4 648.8,70.0 649.5,65.0 650.2,63.5 650.9,59.7 651.7,45.7 652.4,47.9 653.1,42.0 653.8,40.7 654.6,30.0 655.3,24.6 656.0,27.7 656.7,22.2 657.5,23.8 658.2,12.9 658.9,13.4 659.6,17.1 660.4,8.1 661.1,9.2 661.8,7.5 662.5,6.5 663.3,8.8 664.0,7.7 664.7,4.1 665.5,8.0 666.2,13.6 666.9,6.5 667.6,17.6 668.4,23.2 669.1,28.5 669.8,28.9 670.5,32.8 671.3,40.3 672.0,43.5 672.7,56.7 673.4,58.1 674.2,63.5 674.9,66.9 675.6,70.2 676.3,83.6 677.1,71.6 677.8,90.2 678.5,91.5 679.2,95.1 680.0,99.7 680.7,105.9 681.4,120.5 682.1,118.1 682.9,115.3 683.6,123.7 684.3,126.6 685.0,133.2 685.8,123.3 686.5,127.4 687.2,133.6 688.0,132.5 688.7,133.7 689.4,138.0 690.1,135.5 690.9,133.3 691.6,131.6 692.3,128.2 693.0,131.3 693.8,132.1 694.5,128.2 695.2,130.6 695.9,131.5 696.7,122.4 697.4,126.2 698.1,123.1 698.8,119.9"/>
</g>
<rect x="513.40" y="5.00" width="185.80" height="151.30" fill="none" stroke="#222" stroke-width="1.1"/>
<path d="M513.40,156.30v-3.2 M549.69,156.30v-2.0 M585.98,156.30v-3.2 M622.27,156.30v-2.0 M658.56,156.30v-3.2 M694.85,156.30v-2.0 M513.40,156.30h3.2 M513.40,141.17h2.0 M513.40,126.04h3.2 M513.40,110.91h2.0 M513.40,95.78h3.2 M513.40,80.65h2.0 M513.40,65.52h3.2 M513.40,50.39h2.0 M513.40,35.26h3.2 M513.40,20.13h2.0 M513.40,5.00h3.2" stroke="#222" stroke-width="1"/>
<text x="512.90" y="171.05" class="tk" text-anchor="middle">0</text>
<text x="581.00" y="171.05" class="tk" text-anchor="middle">100</text>
<text x="658.60" y="171.05" class="tk" text-anchor="middle">200</text>
<text x="508.80" y="161.47" class="tk" text-anchor="end">0.0</text>
<text x="508.80" y="131.22" class="tk" text-anchor="end">0.2</text>
<text x="508.80" y="100.95" class="tk" text-anchor="end">0.4</text>
<text x="508.80" y="70.70" class="tk" text-anchor="end">0.6</text>
<text x="508.80" y="40.43" class="tk" text-anchor="end">0.8</text>
<text x="508.80" y="10.18" class="tk" text-anchor="end">1.0</text>
<text class="tt" text-anchor="middle" transform="translate(484.00,80.65) rotate(-90)">Normalized amplitude</text>
<text class="tt" text-anchor="middle" x="606.40" y="184.10">Pixels</text>
<text class="tt" text-anchor="middle" x="606.60" y="202.10">(c)</text>
<rect x="516.30" y="8.60" width="95.10" height="48.70" fill="#fff" stroke="#111" stroke-width="1.1"/>
<path d="M518.30,16.50H530.40" stroke="#f04848" stroke-width="1.6"/>
<text class="lg" x="533.30" y="19.60">frame rate = 2.5 Hz</text>
<path d="M518.30,28.40H530.40" stroke="#2f5fa5" stroke-width="1.6"/>
<text class="lg" x="533.30" y="31.50">frame rate = 5 Hz</text>
<path d="M518.30,40.50H530.40" stroke="#f8c030" stroke-width="1.6"/>
<text class="lg" x="533.30" y="43.60">frame rate = 7.5 Hz</text>
<path d="M518.30,52.60H530.40" stroke="#42c27c" stroke-width="1.6"/>
<text class="lg" x="533.30" y="55.70">frame rate = 10 Hz</text>
<clipPath id="cd"><rect x="38.50" y="219.30" width="187.80" height="151.00"/></clipPath>
<g clip-path="url(#cd)" fill="none" stroke-width="1.2" stroke-linejoin="round">
<polyline stroke="#fa1a1a" points="38.9,242.5 39.6,239.6 40.3,228.1 41.1,234.4 41.8,248.9 42.5,238.6 43.3,242.4 44.0,237.5 44.7,248.6 45.5,237.0 46.2,237.2 46.9,229.3 47.7,237.9 48.4,237.5 49.1,251.0 49.9,228.4 50.6,255.5 51.3,237.4 52.1,247.0 52.8,251.1 53.5,250.3 54.3,251.1 55.0,245.2 55.7,249.3 56.5,240.8 57.2,263.5 57.9,254.3 58.7,262.4 59.4,254.3 60.1,289.6 60.9,265.6 61.6,264.2 62.3,276.7 63.1,262.9 63.8,269.4 64.5,265.1 65.3,266.0 66.0,278.5 66.7,276.7 67.5,271.6 68.2,264.1 68.9,261.4 69.7,268.7 70.4,265.4 71.1,264.1 71.9,260.5 72.6,255.9 73.3,252.9 74.1,236.9 74.8,251.0 75.5,248.0 76.3,242.0 77.0,249.5 77.7,244.7 78.5,241.5 79.2,236.3 79.9,249.6 80.7,233.4 81.4,245.1 82.1,242.8 82.9,239.4 83.6,241.4 84.3,239.8 85.1,246.3 85.8,248.6 86.6,247.8 87.3,257.4 88.0,245.0 88.8,259.2 89.5,264.3 90.2,245.9 91.0,262.6 91.7,272.1 92.4,255.9 93.2,272.5 93.9,266.6 94.6,281.3 95.4,280.5 96.1,292.4 96.8,296.7 97.6,293.6 98.3,290.5 99.0,287.3 99.8,297.3 100.5,302.6 101.2,289.7 102.0,297.9 102.7,292.3 103.4,297.2 104.2,292.2 104.9,282.5 105.6,280.0 106.4,268.7 107.1,269.8 107.8,254.7 108.6,258.9 109.3,256.4 110.0,248.1 110.8,249.9 111.5,251.2 112.2,249.0 113.0,246.3 113.7,236.4 114.4,237.4 115.2,239.8 115.9,237.0 116.6,245.3 117.4,238.5 118.1,250.7 118.8,233.6 119.6,241.9 120.3,241.8 121.0,239.9 121.8,244.6 122.5,247.3 123.2,239.5 124.0,247.7 124.7,255.9 125.4,249.5 126.2,265.1 126.9,247.9 127.6,262.7 128.4,265.2 129.1,256.2 129.8,261.1 130.6,276.9 131.3,278.3 132.0,279.9 132.8,280.9 133.5,294.5 134.2,296.9 135.0,295.1 135.7,303.5 136.4,304.5 137.2,308.2 137.9,318.9 138.6,319.9 139.4,329.8 140.1,320.8 140.8,315.9 141.6,339.3 142.3,315.8 143.0,314.3 143.8,315.7 144.5,312.2 145.2,307.9 146.0,307.6 146.7,300.2 147.4,294.5 148.2,286.8 148.9,281.1 149.6,282.8 150.4,271.0 151.1,273.1 151.8,265.4 152.6,258.2 153.3,255.2 154.0,250.7 154.8,244.4 155.5,244.3 156.2,242.0 157.0,237.6 157.7,230.6 158.4,233.8 159.2,224.0 159.9,230.7 160.6,244.3 161.4,232.7 162.1,223.1 162.8,230.1 163.6,231.9 164.3,233.9 165.0,224.7 165.8,226.9 166.5,229.4 167.2,231.7 168.0,228.5 168.7,232.9 169.4,244.1 170.2,237.7 170.9,242.6 171.6,246.1 172.4,244.7 173.1,250.8 173.8,267.0 174.6,250.9 175.3,257.3 176.0,267.8 176.8,275.3 177.5,279.1 178.2,291.7 179.0,290.5 179.7,298.7 180.5,305.3 181.2,314.3 181.9,320.0 182.7,318.8 183.4,324.1 184.1,333.6 184.9,341.7 185.6,350.5 186.3,347.5 187.1,346.9 187.8,364.1 188.5,354.5 189.3,371.2 190.0,364.6 190.7,362.5 191.5,371.2 192.2,371.3 192.9,365.6 193.7,362.5 194.4,367.1 195.1,356.7 195.9,362.8 196.6,347.7 197.3,347.0 198.1,336.5 198.8,325.3 199.5,318.3 200.3,303.2 201.0,293.4 201.7,292.9 202.5,288.8 203.2,286.7 203.9,278.7 204.7,269.5 205.4,265.0 206.1,260.4 206.9,255.9 207.6,249.5 208.3,253.6 209.1,249.0 209.8,237.5 210.5,237.6 211.3,242.8 212.0,234.2 212.7,242.0 213.5,239.6 214.2,246.3 214.9,234.5 215.7,238.2 216.4,233.5 217.1,235.0 217.9,237.6 218.6,237.2 219.3,247.5 220.1,238.3 220.8,236.8 221.5,234.3 222.3,229.2 223.0,226.9 223.7,220.9 224.5,228.5 225.2,221.6 225.9,229.1"/>
<polyline stroke="#3c6fb5" points="38.9,225.0 39.6,227.2 40.3,220.1 41.1,218.8 41.8,229.8 42.5,225.1 43.3,226.1 44.0,229.0 44.7,228.9 45.5,231.8 46.2,218.8 46.9,227.6 47.7,224.5 48.4,234.9 49.1,235.4 49.9,232.2 50.6,233.0 51.3,229.5 52.1,238.3 52.8,231.9 53.5,228.2 54.3,239.7 55.0,232.3 55.7,241.6 56.5,237.2 57.2,239.1 57.9,235.2 58.7,248.5 59.4,247.0 60.1,245.2 60.9,257.4 61.6,254.4 62.3,260.2 63.1,261.3 63.8,256.6 64.5,257.5 65.3,249.9 66.0,255.6 66.7,255.5 67.5,260.8 68.2,259.9 68.9,256.0 69.7,264.5 70.4,244.3 71.1,252.3 71.9,251.9 72.6,246.9 73.3,238.7 74.1,234.9 74.8,240.3 75.5,235.2 76.3,236.1 77.0,239.1 77.7,232.8 78.5,232.7 79.2,239.4 79.9,227.9 80.7,240.6 81.4,233.5 82.1,240.3 82.9,240.1 83.6,240.6 84.3,235.2 85.1,245.1 85.8,241.5 86.6,235.0 87.3,246.5 88.0,245.2 88.8,243.8 89.5,251.5 90.2,249.2 91.0,256.9 91.7,253.4 92.4,258.8 93.2,265.8 93.9,257.8 94.6,267.1 95.4,270.4 96.1,275.8 96.8,276.4 97.6,277.2 98.3,278.2 99.0,276.0 99.8,288.9 100.5,285.7 101.2,278.3 102.0,280.6 102.7,276.6 103.4,267.5 104.2,267.8 104.9,261.6 105.6,259.0 106.4,247.4 107.1,247.7 107.8,253.1 108.6,245.1 109.3,250.7 110.0,238.8 110.8,238.9 111.5,240.8 112.2,239.6 113.0,243.2 113.7,229.5 114.4,232.7 115.2,233.6 115.9,229.1 116.6,235.4 117.4,235.1 118.1,235.9 118.8,239.3 119.6,223.1 120.3,235.4 121.0,237.0 121.8,232.6 122.5,252.1 123.2,239.5 124.0,241.0 124.7,247.4 125.4,243.3 126.2,256.9 126.9,251.5 127.6,251.7 128.4,268.9 129.1,269.8 129.8,269.1 130.6,273.2 131.3,280.3 132.0,280.8 132.8,285.7 133.5,296.0 134.2,295.5 135.0,303.8 135.7,310.5 136.4,315.3 137.2,306.7 137.9,313.6 138.6,309.5 139.4,322.9 140.1,321.3 140.8,321.1 141.6,323.2 142.3,319.8 143.0,318.1 143.8,317.1 144.5,319.1 145.2,310.8 146.0,297.7 146.7,295.7 147.4,289.0 148.2,290.2 148.9,283.8 149.6,280.9 150.4,271.8 151.1,267.7 151.8,261.3 152.6,252.2 153.3,255.4 154.0,245.5 154.8,247.5 155.5,235.7 156.2,237.6 157.0,234.0 157.7,231.2 158.4,224.9 159.2,229.0 159.9,229.6 160.6,231.2 161.4,226.0 162.1,229.1 162.8,227.5 163.6,225.8 164.3,223.5 165.0,228.1 165.8,224.4 166.5,221.9 167.2,233.2 168.0,225.4 168.7,224.4 169.4,235.1 170.2,233.7 170.9,242.6 171.6,239.9 172.4,244.9 173.1,246.2 173.8,253.7 174.6,257.4 175.3,260.8 176.0,267.5 176.8,274.1 177.5,279.7 178.2,288.9 179.0,292.1 179.7,296.4 180.5,311.5 181.2,310.1 181.9,319.8 182.7,327.7 183.4,334.7 184.1,339.0 184.9,344.3 185.6,346.0 186.3,355.1 187.1,351.2 187.8,360.1 188.5,358.0 189.3,358.8 190.0,367.4 190.7,361.3 191.5,358.8 192.2,367.8 192.9,365.0 193.7,367.1 194.4,365.0 195.1,363.4 195.9,361.2 196.6,353.3 197.3,345.0 198.1,337.7 198.8,323.5 199.5,316.4 200.3,309.2 201.0,305.4 201.7,289.4 202.5,284.0 203.2,288.4 203.9,278.9 204.7,271.1 205.4,261.1 206.1,254.9 206.9,254.5 207.6,247.6 208.3,241.2 209.1,243.3 209.8,234.5 210.5,235.2 211.3,231.9 212.0,231.1 212.7,233.5 213.5,232.1 214.2,228.4 214.9,227.7 215.7,228.7 216.4,224.2 217.1,228.3 217.9,230.7 218.6,227.6 219.3,226.7 220.1,226.1 220.8,221.6 221.5,223.0 222.3,220.4 223.0,220.8 223.7,222.6 224.5,218.8 225.2,222.6 225.9,221.0"/>
<polyline stroke="#fdbc0c" points="38.9,239.7 39.6,234.8 40.3,236.7 41.1,233.5 41.8,226.9 42.5,224.3 43.3,230.2 44.0,234.7 44.7,230.8 45.5,233.4 46.2,237.3 46.9,235.2 47.7,236.7 48.4,239.0 49.1,230.9 49.9,240.4 50.6,241.0 51.3,236.3 52.1,243.1 52.8,245.7 53.5,244.8 54.3,239.4 55.0,240.6 55.7,241.8 56.5,246.6 57.2,250.5 57.9,244.5 58.7,257.4 59.4,254.1 60.1,261.3 60.9,259.3 61.6,260.3 62.3,255.9 63.1,276.1 63.8,258.6 64.5,269.5 65.3,265.0 66.0,262.9 66.7,269.4 67.5,265.0 68.2,260.9 68.9,261.7 69.7,262.0 70.4,255.2 71.1,253.1 71.9,258.0 72.6,242.8 73.3,245.6 74.1,255.3 74.8,246.2 75.5,233.2 76.3,232.4 77.0,237.1 77.7,244.7 78.5,237.4 79.2,231.2 79.9,234.5 80.7,238.4 81.4,241.2 82.1,235.1 82.9,240.7 83.6,239.1 84.3,239.3 85.1,235.1 85.8,242.8 86.6,243.7 87.3,254.3 88.0,242.9 88.8,245.7 89.5,251.7 90.2,264.2 91.0,259.1 91.7,258.9 92.4,252.3 93.2,261.5 93.9,263.1 94.6,265.5 95.4,265.6 96.1,279.2 96.8,280.4 97.6,284.3 98.3,282.5 99.0,284.7 99.8,284.6 100.5,290.9 101.2,285.4 102.0,287.3 102.7,270.9 103.4,279.0 104.2,259.8 104.9,258.2 105.6,266.1 106.4,252.9 107.1,251.5 107.8,258.5 108.6,246.5 109.3,247.6 110.0,243.8 110.8,247.4 111.5,241.9 112.2,237.5 113.0,237.4 113.7,237.1 114.4,234.3 115.2,238.0 115.9,232.1 116.6,245.1 117.4,226.9 118.1,233.6 118.8,232.1 119.6,231.0 120.3,241.0 121.0,226.0 121.8,242.4 122.5,236.5 123.2,238.5 124.0,235.7 124.7,243.5 125.4,251.9 126.2,246.8 126.9,262.3 127.6,256.4 128.4,261.5 129.1,257.3 129.8,269.3 130.6,274.6 131.3,280.3 132.0,285.1 132.8,288.3 133.5,288.2 134.2,299.5 135.0,299.4 135.7,307.8 136.4,307.0 137.2,309.1 137.9,316.7 138.6,317.2 139.4,317.3 140.1,317.2 140.8,318.6 141.6,322.5 142.3,323.9 143.0,323.2 143.8,312.2 144.5,306.9 145.2,306.1 146.0,297.7 146.7,299.1 147.4,294.1 148.2,282.9 148.9,286.0 149.6,275.8 150.4,271.4 151.1,266.9 151.8,256.8 152.6,260.1 153.3,253.8 154.0,254.0 154.8,246.0 155.5,240.4 156.2,237.1 157.0,234.0 157.7,230.3 158.4,231.8 159.2,234.8 159.9,227.2 160.6,225.7 161.4,230.2 162.1,228.5 162.8,220.0 163.6,222.1 164.3,221.8 165.0,223.4 165.8,225.7 166.5,228.7 167.2,226.3 168.0,229.9 168.7,232.2 169.4,232.9 170.2,235.5 170.9,235.1 171.6,243.6 172.4,235.7 173.1,250.0 173.8,251.8 174.6,251.5 175.3,261.7 176.0,266.4 176.8,271.6 177.5,288.0 178.2,286.6 179.0,294.3 179.7,298.3 180.5,302.2 181.2,308.3 181.9,312.3 182.7,319.1 183.4,326.7 184.1,335.9 184.9,338.2 185.6,349.8 186.3,350.9 187.1,349.4 187.8,354.5 188.5,364.0 189.3,363.5 190.0,360.2 190.7,362.3 191.5,361.8 192.2,371.3 192.9,370.4 193.7,367.1 194.4,368.0 195.1,362.6 195.9,359.3 196.6,354.2 197.3,347.9 198.1,335.7 198.8,325.5 199.5,319.1 200.3,315.1 201.0,298.9 201.7,294.5 202.5,286.7 203.2,280.9 203.9,280.4 204.7,267.6 205.4,266.0 206.1,262.6 206.9,249.5 207.6,249.2 208.3,242.4 209.1,236.4 209.8,231.1 210.5,239.9 211.3,234.7 212.0,228.8 212.7,231.8 213.5,239.3 214.2,228.0 214.9,227.4 215.7,225.3 216.4,226.8 217.1,228.6 217.9,226.1 218.6,226.5 219.3,227.7 220.1,224.8 220.8,224.1 221.5,227.7 222.3,220.4 223.0,220.1 223.7,219.5 224.5,230.4 225.2,221.4 225.9,222.1"/>
<polyline stroke="#32c26e" points="38.9,247.1 39.6,239.9 40.3,249.2 41.1,236.7 41.8,240.4 42.5,244.2 43.3,235.3 44.0,239.4 44.7,239.9 45.5,247.1 46.2,238.9 46.9,235.3 47.7,237.2 48.4,248.6 49.1,237.3 49.9,237.1 50.6,241.3 51.3,247.5 52.1,253.0 52.8,250.8 53.5,249.8 54.3,246.4 55.0,245.8 55.7,252.5 56.5,257.8 57.2,254.1 57.9,260.4 58.7,250.6 59.4,264.4 60.1,258.8 60.9,259.3 61.6,269.5 62.3,262.4 63.1,269.3 63.8,273.6 64.5,275.1 65.3,271.0 66.0,266.9 66.7,279.7 67.5,266.9 68.2,268.8 68.9,269.4 69.7,264.0 70.4,260.9 71.1,258.5 71.9,252.2 72.6,257.6 73.3,242.2 74.1,244.8 74.8,249.5 75.5,253.9 76.3,243.8 77.0,244.2 77.7,237.8 78.5,237.0 79.2,231.2 79.9,240.6 80.7,237.0 81.4,243.4 82.1,244.1 82.9,236.2 83.6,244.6 84.3,245.3 85.1,247.3 85.8,245.3 86.6,245.3 87.3,249.9 88.0,256.0 88.8,250.9 89.5,258.1 90.2,258.3 91.0,258.2 91.7,260.6 92.4,274.6 93.2,258.8 93.9,265.3 94.6,262.6 95.4,262.3 96.1,280.4 96.8,281.2 97.6,279.9 98.3,278.8 99.0,287.3 99.8,288.3 100.5,283.1 101.2,291.4 102.0,284.1 102.7,277.0 103.4,279.3 104.2,269.2 104.9,267.5 105.6,269.3 106.4,261.0 107.1,256.5 107.8,254.4 108.6,250.4 109.3,246.6 110.0,245.2 110.8,243.9 111.5,244.7 112.2,241.4 113.0,239.3 113.7,238.0 114.4,228.4 115.2,243.1 115.9,233.5 116.6,241.9 117.4,237.2 118.1,231.0 118.8,236.3 119.6,229.2 120.3,240.4 121.0,238.3 121.8,240.9 122.5,239.3 123.2,242.2 124.0,244.1 124.7,243.9 125.4,241.6 126.2,248.5 126.9,252.3 127.6,257.7 128.4,263.5 129.1,270.6 129.8,273.4 130.6,273.6 131.3,285.8 132.0,280.2 132.8,288.7 133.5,294.9 134.2,297.6 135.0,297.2 135.7,302.2 136.4,306.3 137.2,304.5 137.9,305.5 138.6,320.2 139.4,315.5 140.1,322.7 140.8,326.5 141.6,324.3 142.3,318.0 143.0,319.4 143.8,316.5 144.5,307.2 145.2,305.9 146.0,303.1 146.7,292.1 147.4,291.4 148.2,290.3 148.9,286.3 149.6,279.0 150.4,272.1 151.1,264.5 151.8,259.6 152.6,256.9 153.3,256.1 154.0,244.4 154.8,242.3 155.5,242.2 156.2,239.8 157.0,232.7 157.7,230.2 158.4,227.1 159.2,232.4 159.9,221.7 160.6,232.9 161.4,226.7 162.1,221.8 162.8,222.4 163.6,228.4 164.3,223.4 165.0,221.7 165.8,223.9 166.5,230.3 167.2,223.0 168.0,234.5 168.7,230.8 169.4,236.4 170.2,236.8 170.9,239.1 171.6,239.2 172.4,247.7 173.1,246.3 173.8,246.5 174.6,254.4 175.3,257.5 176.0,263.7 176.8,274.3 177.5,280.0 178.2,285.0 179.0,289.9 179.7,291.3 180.5,298.8 181.2,312.0 181.9,318.6 182.7,327.1 183.4,337.5 184.1,331.9 184.9,340.0 185.6,353.0 186.3,350.8 187.1,346.7 187.8,355.7 188.5,358.2 189.3,361.2 190.0,365.7 190.7,368.1 191.5,368.1 192.2,365.7 192.9,367.4 193.7,364.3 194.4,359.6 195.1,360.8 195.9,356.9 196.6,356.6 197.3,351.8 198.1,330.8 198.8,325.9 199.5,316.0 200.3,312.6 201.0,308.6 201.7,291.2 202.5,295.1 203.2,282.2 203.9,277.2 204.7,268.9 205.4,261.5 206.1,256.3 206.9,260.4 207.6,245.3 208.3,249.6 209.1,237.2 209.8,237.8 210.5,238.0 211.3,234.2 212.0,235.3 212.7,229.9 213.5,226.1 214.2,226.1 214.9,228.1 215.7,224.4 216.4,226.0 217.1,220.4 217.9,225.3 218.6,228.5 219.3,227.1 220.1,228.2 220.8,226.3 221.5,225.1 222.3,221.6 223.0,220.4 223.7,222.0 224.5,220.5 225.2,224.2 225.9,223.6"/>
</g>
<rect x="38.50" y="220.30" width="187.80" height="149.50" fill="none" stroke="#222" stroke-width="1.1"/>
<path d="M38.50,369.80v-3.2 M75.18,369.80v-2.0 M111.86,369.80v-3.2 M148.54,369.80v-2.0 M185.22,369.80v-3.2 M221.90,369.80v-2.0 M38.50,369.80h3.2 M38.50,354.85h2.0 M38.50,339.90h3.2 M38.50,324.95h2.0 M38.50,310.00h3.2 M38.50,295.05h2.0 M38.50,280.10h3.2 M38.50,265.15h2.0 M38.50,250.20h3.2 M38.50,235.25h2.0 M38.50,220.30h3.2" stroke="#222" stroke-width="1"/>
<text x="43.70" y="384.55" class="tk" text-anchor="middle">0</text>
<text x="112.00" y="384.55" class="tk" text-anchor="middle">100</text>
<text x="185.70" y="384.55" class="tk" text-anchor="middle">200</text>
<text x="35.90" y="374.98" class="tk" text-anchor="end">0.0</text>
<text x="35.90" y="345.08" class="tk" text-anchor="end">0.2</text>
<text x="35.90" y="315.18" class="tk" text-anchor="end">0.4</text>
<text x="35.90" y="285.28" class="tk" text-anchor="end">0.6</text>
<text x="35.90" y="255.37" class="tk" text-anchor="end">0.8</text>
<text x="35.90" y="225.47" class="tk" text-anchor="end">1.0</text>
<text class="tt" text-anchor="middle" transform="translate(9.30,294.65) rotate(-90)">Normalized phase</text>
<text class="tt" text-anchor="middle" x="131.90" y="400.80">Pixels</text>
<text class="tt" text-anchor="middle" x="132.30" y="416.30">(d)</text>
<rect x="42.10" y="317.10" width="96.30" height="49.20" fill="#fff" stroke="#111" stroke-width="1.1"/>
<path d="M43.70,324.90H55.40" stroke="#f04848" stroke-width="1.6"/>
<text class="lg" x="58.60" y="328.00">frame rate = 2.5 Hz</text>
<path d="M43.70,337.00H55.40" stroke="#2f5fa5" stroke-width="1.6"/>
<text class="lg" x="58.60" y="340.10">frame rate = 5 Hz</text>
<path d="M43.70,349.30H55.40" stroke="#f8c030" stroke-width="1.6"/>
<text class="lg" x="58.60" y="352.40">frame rate = 7.5 Hz</text>
<path d="M43.70,361.10H55.40" stroke="#42c27c" stroke-width="1.6"/>
<text class="lg" x="58.60" y="364.20">frame rate = 10 Hz</text>
<clipPath id="ce"><rect x="274.00" y="218.30" width="185.80" height="151.70"/></clipPath>
<g clip-path="url(#ce)" fill="none" stroke-width="1.2" stroke-linejoin="round">
<polyline stroke="#fa1a1a" points="274.4,283.8 275.1,288.1 275.8,277.0 276.5,269.7 277.3,261.9 278.0,270.7 278.7,276.3 279.4,278.2 280.2,263.6 280.9,255.2 281.6,268.1 282.3,282.5 283.1,279.9 283.8,255.8 284.5,269.7 285.2,289.1 286.0,274.9 286.7,286.4 287.4,282.3 288.2,281.2 288.9,283.2 289.6,271.2 290.3,276.7 291.1,281.2 291.8,271.2 292.5,266.7 293.2,290.0 294.0,277.3 294.7,284.8 295.4,296.2 296.1,289.7 296.9,278.4 297.6,280.8 298.3,285.7 299.0,295.1 299.8,290.8 300.5,298.7 301.2,301.5 301.9,286.7 302.7,299.4 303.4,278.0 304.1,282.4 304.8,308.3 305.6,286.6 306.3,297.9 307.0,284.6 307.7,281.4 308.5,297.8 309.2,278.9 309.9,277.4 310.7,264.1 311.4,282.8 312.1,263.5 312.8,280.3 313.6,272.8 314.3,277.4 315.0,255.6 315.7,263.4 316.5,245.4 317.2,261.9 317.9,259.8 318.6,259.9 319.4,273.9 320.1,269.4 320.8,256.5 321.5,273.5 322.3,268.4 323.0,271.0 323.7,265.9 324.4,276.1 325.2,275.7 325.9,274.8 326.6,279.7 327.3,292.6 328.1,279.4 328.8,303.0 329.5,304.8 330.2,308.3 331.0,289.8 331.7,305.0 332.4,313.4 333.2,317.7 333.9,304.8 334.6,318.9 335.3,335.4 336.1,301.6 336.8,317.8 337.5,308.1 338.2,303.3 339.0,305.3 339.7,299.1 340.4,283.6 341.1,298.3 341.9,301.7 342.6,303.3 343.3,284.1 344.0,281.9 344.8,272.0 345.5,274.7 346.2,270.9 346.9,270.2 347.7,266.9 348.4,260.4 349.1,265.7 349.8,261.5 350.6,243.9 351.3,256.5 352.0,274.9 352.7,242.5 353.5,254.6 354.2,266.0 354.9,247.9 355.7,256.2 356.4,262.5 357.1,263.4 357.8,267.7 358.6,258.7 359.3,250.1 360.0,264.6 360.7,258.8 361.5,246.6 362.2,277.7 362.9,266.2 363.6,274.6 364.4,285.1 365.1,288.7 365.8,283.6 366.5,283.9 367.3,297.4 368.0,296.4 368.7,294.3 369.4,302.0 370.2,299.8 370.9,306.6 371.6,308.8 372.3,298.9 373.1,311.3 373.8,316.7 374.5,312.3 375.2,326.2 376.0,322.2 376.7,322.6 377.4,314.7 378.1,307.3 378.9,317.6 379.6,325.0 380.3,296.9 381.1,298.2 381.8,307.7 382.5,287.1 383.2,290.6 384.0,297.0 384.7,284.1 385.4,280.2 386.1,264.4 386.9,274.4 387.6,268.3 388.3,265.6 389.0,263.7 389.8,264.4 390.5,255.7 391.2,248.6 391.9,248.8 392.7,255.5 393.4,255.2 394.1,247.2 394.8,251.6 395.6,250.5 396.3,255.7 397.0,234.6 397.7,240.1 398.5,250.8 399.2,240.4 399.9,238.5 400.6,260.3 401.4,250.6 402.1,250.6 402.8,246.0 403.6,252.0 404.3,254.4 405.0,255.5 405.7,247.2 406.5,248.6 407.2,267.3 407.9,273.4 408.6,256.8 409.4,282.1 410.1,284.7 410.8,286.3 411.5,288.8 412.3,290.5 413.0,298.9 413.7,310.8 414.4,307.6 415.2,313.6 415.9,308.7 416.6,323.7 417.3,335.2 418.1,337.6 418.8,327.4 419.5,342.9 420.2,356.6 421.0,353.4 421.7,355.1 422.4,352.1 423.1,366.9 423.9,359.4 424.6,360.3 425.3,370.0 426.1,367.6 426.8,355.7 427.5,353.8 428.2,355.8 429.0,355.6 429.7,347.8 430.4,351.1 431.1,346.4 431.9,345.9 432.6,336.0 433.3,331.3 434.0,309.3 434.8,320.0 435.5,305.5 436.2,299.2 436.9,301.9 437.7,288.3 438.4,301.5 439.1,282.9 439.8,273.0 440.6,286.5 441.3,274.7 442.0,257.5 442.7,260.5 443.5,261.2 444.2,253.3 444.9,250.5 445.6,239.8 446.4,238.3 447.1,240.2 447.8,240.9 448.6,236.1 449.3,227.2 450.0,232.0 450.7,229.8 451.5,234.1 452.2,240.5 452.9,237.2 453.6,229.6 454.4,232.9 455.1,239.2 455.8,244.6 456.5,236.6 457.3,241.1 458.0,242.8 458.7,243.2 459.4,240.1"/>
<polyline stroke="#3c6fb5" points="274.4,252.2 275.1,248.0 275.8,247.4 276.5,244.3 277.3,246.1 278.0,251.2 278.7,249.1 279.4,246.0 280.2,250.3 280.9,245.8 281.6,242.7 282.3,253.1 283.1,258.3 283.8,242.9 284.5,249.7 285.2,247.3 286.0,259.5 286.7,244.7 287.4,250.9 288.2,255.7 288.9,256.9 289.6,254.4 290.3,255.9 291.1,256.4 291.8,260.8 292.5,248.3 293.2,255.6 294.0,255.9 294.7,257.1 295.4,271.5 296.1,257.8 296.9,263.9 297.6,266.1 298.3,267.1 299.0,275.5 299.8,268.3 300.5,277.8 301.2,279.0 301.9,278.8 302.7,273.4 303.4,270.3 304.1,277.3 304.8,282.1 305.6,268.2 306.3,277.6 307.0,262.9 307.7,266.3 308.5,266.6 309.2,263.9 309.9,256.2 310.7,252.1 311.4,256.1 312.1,248.7 312.8,242.0 313.6,253.6 314.3,258.2 315.0,257.4 315.7,258.9 316.5,254.8 317.2,255.2 317.9,258.4 318.6,249.0 319.4,266.1 320.1,260.1 320.8,243.4 321.5,249.3 322.3,252.8 323.0,254.0 323.7,248.1 324.4,255.9 325.2,260.2 325.9,270.2 326.6,268.0 327.3,275.5 328.1,279.0 328.8,282.2 329.5,281.7 330.2,286.1 331.0,282.6 331.7,296.7 332.4,293.3 333.2,285.3 333.9,296.7 334.6,290.7 335.3,290.4 336.1,288.6 336.8,290.6 337.5,300.4 338.2,292.7 339.0,291.1 339.7,294.8 340.4,286.2 341.1,286.7 341.9,284.5 342.6,269.9 343.3,266.6 344.0,265.7 344.8,262.2 345.5,254.9 346.2,249.4 346.9,245.7 347.7,241.6 348.4,242.7 349.1,237.8 349.8,236.6 350.6,237.0 351.3,241.9 352.0,241.1 352.7,234.8 353.5,237.5 354.2,236.2 354.9,239.8 355.7,250.2 356.4,235.0 357.1,236.1 357.8,231.8 358.6,236.6 359.3,240.6 360.0,243.4 360.7,252.9 361.5,243.0 362.2,253.3 362.9,250.7 363.6,256.0 364.4,259.7 365.1,261.0 365.8,273.3 366.5,278.0 367.3,285.6 368.0,288.2 368.7,282.4 369.4,297.4 370.2,293.2 370.9,298.7 371.6,302.2 372.3,304.6 373.1,315.7 373.8,310.8 374.5,306.3 375.2,317.7 376.0,315.3 376.7,318.0 377.4,313.1 378.1,317.9 378.9,305.7 379.6,310.4 380.3,310.0 381.1,292.6 381.8,290.8 382.5,287.2 383.2,282.0 384.0,280.2 384.7,275.0 385.4,267.4 386.1,262.5 386.9,258.6 387.6,257.5 388.3,256.5 389.0,252.8 389.8,246.0 390.5,242.4 391.2,245.5 391.9,243.2 392.7,235.4 393.4,235.1 394.1,234.1 394.8,239.8 395.6,236.3 396.3,236.4 397.0,233.9 397.7,239.8 398.5,230.8 399.2,234.5 399.9,234.9 400.6,241.0 401.4,238.4 402.1,235.4 402.8,246.2 403.6,242.2 404.3,243.1 405.0,249.8 405.7,248.0 406.5,255.1 407.2,254.0 407.9,260.4 408.6,265.7 409.4,264.8 410.1,273.8 410.8,277.8 411.5,291.0 412.3,294.5 413.0,294.9 413.7,299.8 414.4,307.9 415.2,310.2 415.9,320.7 416.6,321.2 417.3,329.9 418.1,329.6 418.8,336.6 419.5,341.6 420.2,344.5 421.0,344.4 421.7,358.3 422.4,360.7 423.1,357.7 423.9,364.5 424.6,359.3 425.3,365.3 426.1,366.2 426.8,364.6 427.5,358.1 428.2,358.6 429.0,355.9 429.7,353.4 430.4,355.2 431.1,348.6 431.9,336.3 432.6,333.5 433.3,329.2 434.0,323.0 434.8,320.6 435.5,311.6 436.2,309.5 436.9,299.6 437.7,297.2 438.4,289.8 439.1,282.0 439.8,278.9 440.6,270.4 441.3,265.7 442.0,260.8 442.7,252.8 443.5,257.0 444.2,253.1 444.9,241.8 445.6,236.7 446.4,229.8 447.1,230.9 447.8,228.6 448.6,232.1 449.3,225.4 450.0,224.4 450.7,228.9 451.5,227.8 452.2,224.8 452.9,223.1 453.6,233.0 454.4,223.3 455.1,222.9 455.8,225.2 456.5,225.2 457.3,226.2 458.0,232.0 458.7,228.0 459.4,230.5"/>
<polyline stroke="#fdbc0c" points="274.4,267.2 275.1,259.2 275.8,250.3 276.5,268.0 277.3,268.2 278.0,267.3 278.7,243.7 279.4,257.5 280.2,256.3 280.9,260.9 281.6,261.9 282.3,268.9 283.1,255.1 283.8,254.7 284.5,269.4 285.2,264.7 286.0,264.2 286.7,261.0 287.4,260.3 288.2,254.9 288.9,253.4 289.6,255.2 290.3,253.5 291.1,269.2 291.8,265.3 292.5,254.6 293.2,260.4 294.0,263.0 294.7,276.9 295.4,277.6 296.1,262.7 296.9,266.8 297.6,273.1 298.3,276.7 299.0,287.9 299.8,277.0 300.5,274.2 301.2,270.4 301.9,280.4 302.7,282.0 303.4,287.5 304.1,272.9 304.8,269.8 305.6,284.0 306.3,276.4 307.0,274.9 307.7,275.8 308.5,284.9 309.2,269.0 309.9,260.9 310.7,271.9 311.4,266.3 312.1,280.4 312.8,250.8 313.6,255.3 314.3,257.7 315.0,259.4 315.7,261.4 316.5,257.7 317.2,259.0 317.9,258.6 318.6,257.6 319.4,257.2 320.1,248.9 320.8,268.6 321.5,258.5 322.3,264.9 323.0,269.0 323.7,277.8 324.4,260.3 325.2,272.2 325.9,273.8 326.6,269.9 327.3,283.7 328.1,280.4 328.8,284.1 329.5,281.5 330.2,283.1 331.0,297.7 331.7,289.0 332.4,298.0 333.2,299.3 333.9,303.1 334.6,296.9 335.3,308.9 336.1,298.7 336.8,291.8 337.5,299.6 338.2,283.2 339.0,298.4 339.7,289.9 340.4,291.6 341.1,289.0 341.9,288.0 342.6,280.0 343.3,272.5 344.0,273.2 344.8,258.0 345.5,249.1 346.2,263.9 346.9,245.5 347.7,247.6 348.4,246.6 349.1,232.3 349.8,240.0 350.6,245.3 351.3,246.1 352.0,260.5 352.7,241.5 353.5,250.8 354.2,244.7 354.9,245.2 355.7,239.8 356.4,233.5 357.1,240.9 357.8,240.0 358.6,250.5 359.3,247.2 360.0,246.6 360.7,262.2 361.5,242.2 362.2,261.7 362.9,268.1 363.6,253.2 364.4,253.9 365.1,275.9 365.8,280.2 366.5,261.6 367.3,285.3 368.0,303.4 368.7,299.4 369.4,286.9 370.2,299.0 370.9,301.9 371.6,301.9 372.3,307.7 373.1,315.8 373.8,324.5 374.5,313.9 375.2,323.2 376.0,317.8 376.7,308.1 377.4,313.8 378.1,315.1 378.9,313.6 379.6,307.1 380.3,301.5 381.1,306.7 381.8,295.3 382.5,283.7 383.2,282.7 384.0,284.1 384.7,279.1 385.4,279.8 386.1,270.8 386.9,258.0 387.6,261.1 388.3,261.1 389.0,257.2 389.8,252.9 390.5,250.5 391.2,248.9 391.9,247.9 392.7,240.3 393.4,235.1 394.1,242.0 394.8,241.4 395.6,234.5 396.3,244.3 397.0,240.8 397.7,240.1 398.5,238.4 399.2,240.8 399.9,244.1 400.6,240.5 401.4,247.0 402.1,250.3 402.8,252.8 403.6,244.0 404.3,255.4 405.0,249.3 405.7,251.2 406.5,254.0 407.2,261.5 407.9,266.9 408.6,268.6 409.4,275.8 410.1,283.5 410.8,279.2 411.5,292.6 412.3,287.4 413.0,297.2 413.7,305.8 414.4,307.3 415.2,309.0 415.9,323.5 416.6,326.2 417.3,330.9 418.1,330.5 418.8,333.8 419.5,339.6 420.2,347.4 421.0,352.1 421.7,350.6 422.4,354.6 423.1,360.6 423.9,368.1 424.6,362.5 425.3,364.9 426.1,365.5 426.8,359.2 427.5,360.5 428.2,364.3 429.0,361.2 429.7,349.0 430.4,349.5 431.1,342.5 431.9,341.4 432.6,339.7 433.3,329.6 434.0,318.9 434.8,317.4 435.5,316.7 436.2,307.6 436.9,302.4 437.7,294.0 438.4,285.0 439.1,275.6 439.8,276.7 440.6,273.8 441.3,266.5 442.0,261.5 442.7,258.2 443.5,251.9 444.2,247.7 444.9,247.8 445.6,237.2 446.4,237.1 447.1,236.6 447.8,229.0 448.6,230.8 449.3,220.8 450.0,224.3 450.7,224.9 451.5,227.5 452.2,225.7 452.9,220.5 453.6,226.0 454.4,220.3 455.1,231.3 455.8,223.5 456.5,222.7 457.3,226.0 458.0,228.5 458.7,225.2 459.4,232.6"/>
<polyline stroke="#32c26e" points="274.4,252.5 275.1,246.2 275.8,239.6 276.5,242.8 277.3,245.1 278.0,241.6 278.7,240.3 279.4,249.0 280.2,257.2 280.9,247.9 281.6,250.5 282.3,245.8 283.1,249.2 283.8,247.7 284.5,241.5 285.2,244.5 286.0,246.6 286.7,239.1 287.4,251.2 288.2,251.1 288.9,242.4 289.6,255.0 290.3,257.7 291.1,242.2 291.8,247.3 292.5,246.0 293.2,246.3 294.0,245.8 294.7,254.3 295.4,253.7 296.1,260.7 296.9,255.8 297.6,257.6 298.3,264.2 299.0,261.2 299.8,251.6 300.5,274.6 301.2,264.3 301.9,263.7 302.7,263.0 303.4,272.9 304.1,262.3 304.8,265.2 305.6,268.9 306.3,268.3 307.0,262.4 307.7,255.6 308.5,252.8 309.2,243.1 309.9,255.0 310.7,248.0 311.4,251.9 312.1,244.2 312.8,246.9 313.6,250.3 314.3,253.8 315.0,250.6 315.7,245.1 316.5,238.5 317.2,242.1 317.9,252.5 318.6,249.2 319.4,247.1 320.1,248.8 320.8,248.7 321.5,245.8 322.3,249.6 323.0,255.4 323.7,263.0 324.4,256.0 325.2,265.0 325.9,260.2 326.6,261.6 327.3,274.4 328.1,271.9 328.8,276.2 329.5,267.5 330.2,278.1 331.0,293.3 331.7,283.7 332.4,286.5 333.2,292.5 333.9,295.2 334.6,290.3 335.3,289.4 336.1,289.8 336.8,296.4 337.5,291.1 338.2,296.2 339.0,293.7 339.7,286.4 340.4,286.2 341.1,279.2 341.9,259.7 342.6,265.5 343.3,268.3 344.0,270.7 344.8,259.0 345.5,257.1 346.2,256.5 346.9,237.4 347.7,241.6 348.4,235.9 349.1,221.5 349.8,235.9 350.6,236.3 351.3,234.7 352.0,237.4 352.7,239.7 353.5,235.9 354.2,228.3 354.9,235.6 355.7,241.7 356.4,241.9 357.1,241.8 357.8,237.7 358.6,236.5 359.3,238.0 360.0,236.0 360.7,245.3 361.5,242.1 362.2,247.3 362.9,248.5 363.6,265.6 364.4,253.5 365.1,272.8 365.8,275.7 366.5,271.0 367.3,282.2 368.0,276.1 368.7,289.5 369.4,300.1 370.2,297.9 370.9,304.3 371.6,297.5 372.3,299.9 373.1,306.7 373.8,314.0 374.5,312.8 375.2,309.4 376.0,318.3 376.7,318.2 377.4,310.6 378.1,310.3 378.9,313.0 379.6,309.9 380.3,311.6 381.1,294.9 381.8,294.8 382.5,294.0 383.2,287.7 384.0,282.0 384.7,268.8 385.4,267.5 386.1,269.6 386.9,255.7 387.6,254.0 388.3,258.4 389.0,260.6 389.8,246.5 390.5,248.9 391.2,244.8 391.9,243.4 392.7,235.3 393.4,232.7 394.1,233.7 394.8,236.1 395.6,234.3 396.3,232.8 397.0,239.5 397.7,230.6 398.5,235.8 399.2,234.6 399.9,235.8 400.6,234.4 401.4,235.0 402.1,232.6 402.8,242.3 403.6,246.0 404.3,244.8 405.0,249.7 405.7,247.8 406.5,256.5 407.2,257.4 407.9,259.0 408.6,263.1 409.4,270.5 410.1,271.9 410.8,277.8 411.5,292.6 412.3,291.2 413.0,296.9 413.7,303.5 414.4,309.6 415.2,312.4 415.9,316.0 416.6,320.9 417.3,321.9 418.1,327.4 418.8,336.8 419.5,341.9 420.2,341.9 421.0,352.2 421.7,354.5 422.4,357.2 423.1,357.7 423.9,361.4 424.6,360.2 425.3,367.4 426.1,364.3 426.8,367.7 427.5,362.9 428.2,360.1 429.0,360.3 429.7,362.3 430.4,347.1 431.1,344.5 431.9,340.5 432.6,338.1 433.3,331.7 434.0,323.5 434.8,318.7 435.5,308.9 436.2,306.2 436.9,303.3 437.7,292.9 438.4,291.0 439.1,282.6 439.8,283.4 440.6,273.5 441.3,265.3 442.0,263.9 442.7,257.0 443.5,250.4 444.2,247.7 444.9,238.0 445.6,240.4 446.4,236.6 447.1,233.7 447.8,237.4 448.6,234.1 449.3,226.0 450.0,227.4 450.7,221.1 451.5,225.1 452.2,224.9 452.9,220.7 453.6,222.7 454.4,218.4 455.1,226.9 455.8,223.1 456.5,223.8 457.3,225.8 458.0,225.0 458.7,226.0 459.4,229.5"/>
</g>
<rect x="274.00" y="219.30" width="185.80" height="150.20" fill="none" stroke="#222" stroke-width="1.1"/>
<path d="M274.00,369.50v-3.2 M310.29,369.50v-2.0 M346.58,369.50v-3.2 M382.87,369.50v-2.0 M419.16,369.50v-3.2 M455.45,369.50v-2.0 M274.00,369.50h3.2 M274.00,354.48h2.0 M274.00,339.46h3.2 M274.00,324.44h2.0 M274.00,309.42h3.2 M274.00,294.40h2.0 M274.00,279.38h3.2 M274.00,264.36h2.0 M274.00,249.34h3.2 M274.00,234.32h2.0 M274.00,219.30h3.2" stroke="#222" stroke-width="1"/>
<text x="274.10" y="384.25" class="tk" text-anchor="middle">0</text>
<text x="347.00" y="384.25" class="tk" text-anchor="middle">100</text>
<text x="419.30" y="384.25" class="tk" text-anchor="middle">200</text>
<text x="270.00" y="374.68" class="tk" text-anchor="end">0.0</text>
<text x="270.00" y="344.63" class="tk" text-anchor="end">0.2</text>
<text x="270.00" y="314.60" class="tk" text-anchor="end">0.4</text>
<text x="270.00" y="284.56" class="tk" text-anchor="end">0.6</text>
<text x="270.00" y="254.51" class="tk" text-anchor="end">0.8</text>
<text x="270.00" y="224.47" class="tk" text-anchor="end">1.0</text>
<text class="tt" text-anchor="middle" transform="translate(244.50,294.50) rotate(-90)">Normalized phase</text>
<text class="tt" text-anchor="middle" x="367.00" y="400.80">Pixels</text>
<text class="tt" text-anchor="middle" x="367.00" y="416.30">(e)</text>
<rect x="276.50" y="318.90" width="101.80" height="49.40" fill="#fff" stroke="#111" stroke-width="1.1"/>
<path d="M278.00,326.30H290.60" stroke="#f04848" stroke-width="1.6"/>
<text class="lg" x="293.10" y="329.40">frame rate = 0.25 Hz</text>
<path d="M278.00,338.80H290.60" stroke="#2f5fa5" stroke-width="1.6"/>
<text class="lg" x="293.10" y="341.90">frame rate = 0.5 Hz</text>
<path d="M278.00,351.10H290.60" stroke="#f8c030" stroke-width="1.6"/>
<text class="lg" x="293.10" y="354.20">frame rate = 0.75 Hz</text>
<path d="M278.00,363.50H290.60" stroke="#42c27c" stroke-width="1.6"/>
<text class="lg" x="293.10" y="366.60">frame rate = 1 Hz</text>
<clipPath id="cf"><rect x="513.60" y="219.40" width="185.80" height="150.20"/></clipPath>
<g clip-path="url(#cf)" fill="none" stroke-width="1.2" stroke-linejoin="round">
<polyline stroke="#fa1a1a" points="514.0,247.3 514.7,239.6 515.4,286.0 516.1,260.9 516.9,249.4 517.6,246.6 518.3,254.8 519.0,246.5 519.8,259.7 520.5,257.1 521.2,260.7 521.9,273.5 522.7,258.5 523.4,256.6 524.1,266.0 524.8,245.6 525.6,244.9 526.3,239.3 527.0,259.3 527.8,245.8 528.5,272.1 529.2,273.2 529.9,265.3 530.7,264.3 531.4,284.5 532.1,285.4 532.8,262.5 533.6,274.5 534.3,251.6 535.0,259.6 535.7,260.3 536.5,261.6 537.2,255.1 537.9,267.2 538.6,255.1 539.4,273.2 540.1,270.7 540.8,275.7 541.5,262.0 542.3,267.5 543.0,276.4 543.7,245.1 544.4,269.4 545.2,265.9 545.9,259.5 546.6,243.8 547.3,262.5 548.1,251.9 548.8,256.8 549.5,272.0 550.3,246.8 551.0,243.5 551.7,256.2 552.4,253.1 553.2,268.2 553.9,267.8 554.6,255.3 555.3,244.1 556.1,255.4 556.8,247.1 557.5,240.3 558.2,250.6 559.0,246.9 559.7,239.4 560.4,270.2 561.1,251.2 561.9,281.3 562.6,258.7 563.3,263.3 564.0,273.6 564.8,281.7 565.5,273.5 566.2,279.7 566.9,276.7 567.7,289.7 568.4,276.5 569.1,295.8 569.8,290.6 570.6,293.8 571.3,278.0 572.0,308.3 572.8,296.9 573.5,279.7 574.2,298.9 574.9,304.6 575.7,288.3 576.4,294.2 577.1,281.5 577.8,297.9 578.6,282.6 579.3,273.5 580.0,265.3 580.7,284.2 581.5,253.7 582.2,274.2 582.9,276.4 583.6,266.5 584.4,251.9 585.1,255.7 585.8,246.9 586.5,245.8 587.3,247.3 588.0,253.0 588.7,230.8 589.4,273.5 590.2,268.2 590.9,255.0 591.6,262.9 592.3,276.7 593.1,257.9 593.8,257.4 594.5,275.6 595.3,240.7 596.0,236.7 596.7,238.2 597.4,257.8 598.2,252.0 598.9,266.9 599.6,254.8 600.3,266.7 601.1,258.2 601.8,269.0 602.5,258.2 603.2,264.0 604.0,264.2 604.7,296.1 605.4,302.1 606.1,285.1 606.9,298.0 607.6,293.0 608.3,297.7 609.0,302.2 609.8,299.0 610.5,304.7 611.2,308.1 611.9,321.8 612.7,303.1 613.4,317.6 614.1,311.3 614.8,317.5 615.6,310.2 616.3,317.9 617.0,316.5 617.7,315.9 618.5,319.7 619.2,314.4 619.9,306.2 620.7,301.1 621.4,303.3 622.1,274.1 622.8,294.5 623.6,285.1 624.3,260.3 625.0,278.9 625.7,263.8 626.5,260.3 627.2,262.7 627.9,267.6 628.6,264.4 629.4,249.4 630.1,243.6 630.8,260.9 631.5,242.0 632.3,247.3 633.0,236.4 633.7,243.2 634.4,252.2 635.2,251.3 635.9,249.5 636.6,241.2 637.3,229.5 638.1,250.4 638.8,253.0 639.5,249.9 640.2,256.2 641.0,252.1 641.7,255.2 642.4,259.5 643.2,267.6 643.9,263.7 644.6,261.9 645.3,271.8 646.1,264.3 646.8,270.7 647.5,280.9 648.2,269.3 649.0,293.0 649.7,278.5 650.4,276.6 651.1,296.0 651.9,298.7 652.6,295.0 653.3,295.5 654.0,307.0 654.8,312.6 655.5,311.3 656.2,319.7 656.9,333.9 657.7,329.5 658.4,331.3 659.1,345.6 659.8,334.9 660.6,347.4 661.3,340.5 662.0,361.0 662.7,360.3 663.5,367.8 664.2,351.0 664.9,353.6 665.7,352.9 666.4,352.3 667.1,355.4 667.8,353.8 668.6,370.6 669.3,352.7 670.0,354.1 670.7,347.2 671.5,348.1 672.2,323.6 672.9,326.4 673.6,332.5 674.4,311.3 675.1,309.2 675.8,310.1 676.5,298.0 677.3,294.8 678.0,299.5 678.7,287.6 679.4,267.2 680.2,263.7 680.9,259.8 681.6,266.5 682.3,259.4 683.1,253.1 683.8,247.4 684.5,258.1 685.2,259.3 686.0,242.9 686.7,251.3 687.4,255.4 688.2,258.7 688.9,258.3 689.6,242.1 690.3,247.6 691.1,259.4 691.8,267.6 692.5,248.0 693.2,250.1 694.0,252.3 694.7,253.8 695.4,272.3 696.1,265.9 696.9,250.3 697.6,255.2 698.3,250.3 699.0,255.4"/>
<polyline stroke="#3c6fb5" points="514.0,290.6 514.7,277.9 515.4,288.5 516.1,285.0 516.9,283.1 517.6,284.3 518.3,275.4 519.0,274.0 519.8,303.6 520.5,307.0 521.2,296.0 521.9,280.7 522.7,299.5 523.4,279.3 524.1,279.4 524.8,280.2 525.6,296.3 526.3,288.2 527.0,298.1 527.8,284.0 528.5,280.1 529.2,308.6 529.9,303.1 530.7,297.0 531.4,300.8 532.1,296.5 532.8,295.0 533.6,289.6 534.3,303.0 535.0,273.9 535.7,288.1 536.5,281.7 537.2,289.5 537.9,313.8 538.6,309.1 539.4,306.5 540.1,288.3 540.8,298.7 541.5,288.3 542.3,289.1 543.0,288.6 543.7,280.5 544.4,287.2 545.2,305.5 545.9,293.9 546.6,267.4 547.3,294.6 548.1,266.8 548.8,261.8 549.5,284.0 550.3,272.6 551.0,290.1 551.7,266.1 552.4,281.8 553.2,286.6 553.9,276.2 554.6,276.2 555.3,277.0 556.1,268.3 556.8,272.0 557.5,277.6 558.2,261.4 559.0,247.2 559.7,274.0 560.4,284.2 561.1,289.3 561.9,274.5 562.6,285.3 563.3,284.4 564.0,308.0 564.8,301.1 565.5,303.9 566.2,284.0 566.9,299.4 567.7,325.2 568.4,295.9 569.1,291.5 569.8,292.2 570.6,338.2 571.3,308.6 572.0,302.5 572.8,304.8 573.5,313.5 574.2,329.8 574.9,314.7 575.7,312.7 576.4,302.2 577.1,300.0 577.8,306.3 578.6,290.5 579.3,305.8 580.0,296.8 580.7,285.2 581.5,274.3 582.2,278.8 582.9,257.1 583.6,261.2 584.4,272.0 585.1,258.9 585.8,268.3 586.5,268.3 587.3,272.5 588.0,241.9 588.7,246.5 589.4,272.7 590.2,243.4 590.9,244.8 591.6,258.6 592.3,249.1 593.1,230.4 593.8,251.1 594.5,249.5 595.3,242.3 596.0,265.7 596.7,268.8 597.4,271.2 598.2,258.0 598.9,249.1 599.6,269.4 600.3,277.1 601.1,263.1 601.8,271.9 602.5,264.9 603.2,275.7 604.0,280.1 604.7,283.2 605.4,286.1 606.1,299.3 606.9,304.2 607.6,283.3 608.3,273.8 609.0,294.7 609.8,321.3 610.5,309.5 611.2,302.4 611.9,327.7 612.7,320.6 613.4,321.6 614.1,326.4 614.8,325.9 615.6,311.7 616.3,322.0 617.0,319.4 617.7,303.8 618.5,320.3 619.2,324.0 619.9,299.9 620.7,284.8 621.4,294.0 622.1,288.9 622.8,296.4 623.6,289.4 624.3,267.1 625.0,264.2 625.7,264.7 626.5,269.6 627.2,269.7 627.9,264.4 628.6,261.3 629.4,244.4 630.1,252.3 630.8,248.3 631.5,237.8 632.3,236.7 633.0,240.7 633.7,237.6 634.4,241.6 635.2,256.6 635.9,243.2 636.6,245.8 637.3,244.9 638.1,240.0 638.8,245.6 639.5,232.1 640.2,243.0 641.0,241.8 641.7,242.2 642.4,247.8 643.2,244.2 643.9,246.9 644.6,252.0 645.3,266.1 646.1,271.2 646.8,272.6 647.5,271.6 648.2,289.3 649.0,285.4 649.7,291.6 650.4,292.1 651.1,298.0 651.9,289.2 652.6,296.3 653.3,297.0 654.0,316.0 654.8,318.9 655.5,319.4 656.2,308.6 656.9,312.1 657.7,332.7 658.4,326.8 659.1,319.0 659.8,346.5 660.6,344.1 661.3,336.9 662.0,344.8 662.7,360.9 663.5,345.4 664.2,352.7 664.9,357.2 665.7,370.6 666.4,363.3 667.1,350.8 667.8,355.1 668.6,350.6 669.3,354.9 670.0,336.6 670.7,343.9 671.5,329.2 672.2,327.8 672.9,331.3 673.6,306.7 674.4,320.5 675.1,309.9 675.8,296.7 676.5,301.4 677.3,297.2 678.0,277.7 678.7,273.6 679.4,266.8 680.2,256.0 680.9,238.1 681.6,253.7 682.3,228.5 683.1,241.8 683.8,241.5 684.5,258.4 685.2,247.5 686.0,232.3 686.7,228.8 687.4,238.0 688.2,228.6 688.9,223.3 689.6,233.7 690.3,241.4 691.1,237.0 691.8,232.9 692.5,229.6 693.2,226.8 694.0,239.9 694.7,232.4 695.4,233.8 696.1,230.5 696.9,221.6 697.6,219.7 698.3,232.9 699.0,234.0"/>
<polyline stroke="#fdbc0c" points="514.0,283.3 514.7,281.7 515.4,280.9 516.1,279.1 516.9,283.2 517.6,289.6 518.3,291.3 519.0,279.9 519.8,256.9 520.5,275.5 521.2,274.3 521.9,276.7 522.7,281.0 523.4,258.9 524.1,280.9 524.8,286.7 525.6,288.8 526.3,274.7 527.0,286.9 527.8,287.1 528.5,289.0 529.2,295.4 529.9,282.6 530.7,302.0 531.4,263.4 532.1,312.7 532.8,298.6 533.6,283.5 534.3,279.3 535.0,286.3 535.7,280.1 536.5,281.6 537.2,283.0 537.9,279.6 538.6,284.2 539.4,288.7 540.1,289.9 540.8,280.2 541.5,290.6 542.3,282.9 543.0,272.5 543.7,283.6 544.4,274.8 545.2,290.1 545.9,282.0 546.6,278.1 547.3,279.0 548.1,274.7 548.8,263.8 549.5,279.1 550.3,281.2 551.0,270.4 551.7,287.2 552.4,272.3 553.2,259.7 553.9,270.9 554.6,264.9 555.3,266.0 556.1,257.6 556.8,264.2 557.5,267.5 558.2,303.1 559.0,277.0 559.7,266.7 560.4,277.3 561.1,285.9 561.9,272.2 562.6,292.2 563.3,289.5 564.0,282.2 564.8,296.8 565.5,293.0 566.2,297.8 566.9,312.3 567.7,308.4 568.4,309.4 569.1,315.1 569.8,301.0 570.6,314.3 571.3,322.1 572.0,330.4 572.8,320.0 573.5,303.7 574.2,319.1 574.9,308.2 575.7,310.4 576.4,319.1 577.1,322.0 577.8,304.5 578.6,322.2 579.3,295.3 580.0,307.6 580.7,283.0 581.5,291.0 582.2,283.1 582.9,266.9 583.6,282.2 584.4,268.1 585.1,269.5 585.8,260.3 586.5,257.2 587.3,260.6 588.0,260.6 588.7,265.9 589.4,255.4 590.2,263.1 590.9,258.9 591.6,257.9 592.3,272.6 593.1,270.2 593.8,256.9 594.5,259.2 595.3,247.0 596.0,283.6 596.7,258.5 597.4,250.8 598.2,261.6 598.9,256.1 599.6,265.5 600.3,268.5 601.1,261.7 601.8,285.1 602.5,296.4 603.2,274.4 604.0,281.2 604.7,285.1 605.4,287.4 606.1,288.1 606.9,300.7 607.6,296.2 608.3,300.8 609.0,315.6 609.8,310.1 610.5,308.9 611.2,319.1 611.9,307.5 612.7,319.5 613.4,313.2 614.1,309.8 614.8,330.3 615.6,328.9 616.3,315.1 617.0,319.5 617.7,313.6 618.5,302.7 619.2,313.6 619.9,299.3 620.7,302.1 621.4,300.4 622.1,288.4 622.8,285.5 623.6,275.5 624.3,276.4 625.0,268.1 625.7,266.0 626.5,276.9 627.2,263.7 627.9,259.2 628.6,246.8 629.4,256.5 630.1,245.5 630.8,247.7 631.5,255.6 632.3,242.9 633.0,236.9 633.7,243.8 634.4,235.4 635.2,239.6 635.9,240.5 636.6,246.1 637.3,243.4 638.1,238.6 638.8,241.2 639.5,249.6 640.2,243.0 641.0,240.3 641.7,236.9 642.4,240.7 643.2,255.7 643.9,247.8 644.6,267.7 645.3,265.2 646.1,270.0 646.8,257.6 647.5,266.9 648.2,273.2 649.0,283.2 649.7,274.4 650.4,288.5 651.1,287.7 651.9,287.5 652.6,301.5 653.3,300.2 654.0,322.0 654.8,308.8 655.5,328.6 656.2,317.9 656.9,322.4 657.7,324.6 658.4,315.4 659.1,351.9 659.8,335.4 660.6,345.2 661.3,341.2 662.0,347.9 662.7,352.6 663.5,360.0 664.2,364.8 664.9,359.8 665.7,370.6 666.4,354.5 667.1,364.4 667.8,355.4 668.6,364.5 669.3,349.5 670.0,349.3 670.7,336.6 671.5,327.4 672.2,333.7 672.9,323.2 673.6,315.9 674.4,300.9 675.1,313.1 675.8,293.5 676.5,290.8 677.3,291.8 678.0,278.8 678.7,274.7 679.4,256.9 680.2,265.9 680.9,247.6 681.6,253.4 682.3,241.7 683.1,255.0 683.8,245.7 684.5,236.8 685.2,242.0 686.0,244.5 686.7,232.4 687.4,226.0 688.2,230.3 688.9,231.0 689.6,226.2 690.3,231.7 691.1,222.8 691.8,222.5 692.5,239.9 693.2,224.9 694.0,227.8 694.7,230.2 695.4,226.5 696.1,220.4 696.9,218.9 697.6,218.9 698.3,230.4 699.0,219.6"/>
<polyline stroke="#32c26e" points="514.0,282.1 514.7,261.0 515.4,262.9 516.1,261.2 516.9,277.2 517.6,258.8 518.3,260.9 519.0,270.2 519.8,283.9 520.5,269.7 521.2,279.0 521.9,284.3 522.7,276.6 523.4,250.7 524.1,281.2 524.8,271.2 525.6,266.4 526.3,260.1 527.0,276.5 527.8,277.8 528.5,264.5 529.2,271.5 529.9,265.4 530.7,286.2 531.4,277.8 532.1,269.0 532.8,274.9 533.6,284.2 534.3,273.3 535.0,289.1 535.7,279.8 536.5,267.6 537.2,267.5 537.9,272.6 538.6,271.4 539.4,290.4 540.1,284.1 540.8,270.6 541.5,260.3 542.3,274.9 543.0,285.5 543.7,285.1 544.4,266.7 545.2,266.7 545.9,284.2 546.6,271.5 547.3,259.5 548.1,257.4 548.8,271.3 549.5,266.7 550.3,260.0 551.0,271.7 551.7,275.2 552.4,266.7 553.2,250.5 553.9,250.7 554.6,255.1 555.3,268.0 556.1,274.1 556.8,266.6 557.5,258.5 558.2,251.6 559.0,268.9 559.7,263.2 560.4,280.6 561.1,285.5 561.9,270.6 562.6,282.4 563.3,283.4 564.0,295.9 564.8,273.3 565.5,297.2 566.2,285.0 566.9,300.0 567.7,293.3 568.4,281.5 569.1,293.1 569.8,296.7 570.6,292.7 571.3,297.5 572.0,291.5 572.8,314.7 573.5,291.3 574.2,301.3 574.9,309.7 575.7,295.5 576.4,295.1 577.1,298.1 577.8,288.0 578.6,301.6 579.3,299.6 580.0,285.9 580.7,267.5 581.5,267.7 582.2,267.0 582.9,267.1 583.6,257.4 584.4,244.2 585.1,256.2 585.8,255.6 586.5,246.4 587.3,244.0 588.0,247.6 588.7,236.5 589.4,246.1 590.2,255.3 590.9,265.1 591.6,237.3 592.3,248.0 593.1,243.9 593.8,242.7 594.5,235.3 595.3,238.0 596.0,238.9 596.7,245.4 597.4,250.4 598.2,247.4 598.9,257.5 599.6,249.8 600.3,246.7 601.1,252.8 601.8,260.7 602.5,272.1 603.2,275.9 604.0,279.0 604.7,281.1 605.4,279.4 606.1,283.4 606.9,287.0 607.6,288.2 608.3,305.8 609.0,304.4 609.8,302.8 610.5,304.0 611.2,316.3 611.9,319.2 612.7,310.1 613.4,314.6 614.1,317.1 614.8,321.5 615.6,325.0 616.3,319.1 617.0,316.2 617.7,314.0 618.5,309.4 619.2,309.4 619.9,297.9 620.7,302.1 621.4,293.9 622.1,291.1 622.8,297.3 623.6,290.2 624.3,281.4 625.0,273.1 625.7,267.6 626.5,257.9 627.2,261.2 627.9,258.8 628.6,251.0 629.4,256.2 630.1,247.8 630.8,250.6 631.5,242.9 632.3,245.9 633.0,243.7 633.7,230.5 634.4,235.5 635.2,228.1 635.9,241.6 636.6,243.7 637.3,246.9 638.1,242.1 638.8,251.4 639.5,240.8 640.2,245.1 641.0,250.7 641.7,255.0 642.4,251.8 643.2,251.5 643.9,252.9 644.6,266.1 645.3,261.2 646.1,262.8 646.8,255.5 647.5,269.6 648.2,270.1 649.0,283.2 649.7,283.0 650.4,291.1 651.1,295.8 651.9,292.4 652.6,300.8 653.3,295.7 654.0,308.7 654.8,310.5 655.5,324.0 656.2,326.6 656.9,320.7 657.7,331.9 658.4,324.2 659.1,339.7 659.8,343.8 660.6,331.6 661.3,356.2 662.0,353.1 662.7,350.5 663.5,353.3 664.2,366.5 664.9,350.1 665.7,365.4 666.4,370.6 667.1,355.4 667.8,361.5 668.6,356.2 669.3,348.5 670.0,353.0 670.7,346.2 671.5,336.6 672.2,325.4 672.9,331.7 673.6,309.5 674.4,309.0 675.1,310.8 675.8,297.5 676.5,287.6 677.3,276.8 678.0,271.9 678.7,263.9 679.4,265.6 680.2,255.5 680.9,270.0 681.6,244.7 682.3,246.9 683.1,234.4 683.8,244.1 684.5,240.9 685.2,235.7 686.0,229.4 686.7,230.8 687.4,225.7 688.2,230.3 688.9,223.8 689.6,218.9 690.3,221.9 691.1,225.8 691.8,238.6 692.5,227.7 693.2,226.1 694.0,233.7 694.7,226.4 695.4,243.9 696.1,234.2 696.9,234.7 697.6,225.9 698.3,233.6 699.0,234.6"/>
</g>
<rect x="513.60" y="220.40" width="185.80" height="148.70" fill="none" stroke="#222" stroke-width="1.1"/>
<path d="M513.60,369.10v-3.2 M549.89,369.10v-2.0 M586.18,369.10v-3.2 M622.47,369.10v-2.0 M658.76,369.10v-3.2 M695.05,369.10v-2.0 M513.60,369.10h3.2 M513.60,354.23h2.0 M513.60,339.36h3.2 M513.60,324.49h2.0 M513.60,309.62h3.2 M513.60,294.75h2.0 M513.60,279.88h3.2 M513.60,265.01h2.0 M513.60,250.14h3.2 M513.60,235.27h2.0 M513.60,220.40h3.2" stroke="#222" stroke-width="1"/>
<text x="512.90" y="383.85" class="tk" text-anchor="middle">0</text>
<text x="586.30" y="383.85" class="tk" text-anchor="middle">100</text>
<text x="658.60" y="383.85" class="tk" text-anchor="middle">200</text>
<text x="508.80" y="374.28" class="tk" text-anchor="end">0.0</text>
<text x="508.80" y="344.54" class="tk" text-anchor="end">0.2</text>
<text x="508.80" y="314.80" class="tk" text-anchor="end">0.4</text>
<text x="508.80" y="285.06" class="tk" text-anchor="end">0.6</text>
<text x="508.80" y="255.31" class="tk" text-anchor="end">0.8</text>
<text x="508.80" y="225.57" class="tk" text-anchor="end">1.0</text>
<text class="tt" text-anchor="middle" transform="translate(484.00,294.50) rotate(-90)">Normalized phase</text>
<text class="tt" text-anchor="middle" x="606.40" y="400.80">Pixels</text>
<text class="tt" text-anchor="middle" x="606.60" y="416.30">(f)</text>
<rect x="516.20" y="325.10" width="101.50" height="42.30" fill="#fff" stroke="#111" stroke-width="1.1"/>
<path d="M517.70,331.40H530.00" stroke="#f04848" stroke-width="1.6"/>
<text class="lg" x="532.90" y="334.50">frame rate = 0.25 Hz</text>
<path d="M517.70,341.70H530.00" stroke="#2f5fa5" stroke-width="1.6"/>
<text class="lg" x="532.90" y="344.80">frame rate = 0.5 Hz</text>
<path d="M517.70,352.00H530.00" stroke="#f8c030" stroke-width="1.6"/>
<text class="lg" x="532.90" y="355.10">frame rate = 0.75 Hz</text>
<path d="M517.70,362.30H530.00" stroke="#42c27c" stroke-width="1.6"/>
<text class="lg" x="532.90" y="365.40">frame rate = 1 Hz</text>
</svg>
</body></html>
